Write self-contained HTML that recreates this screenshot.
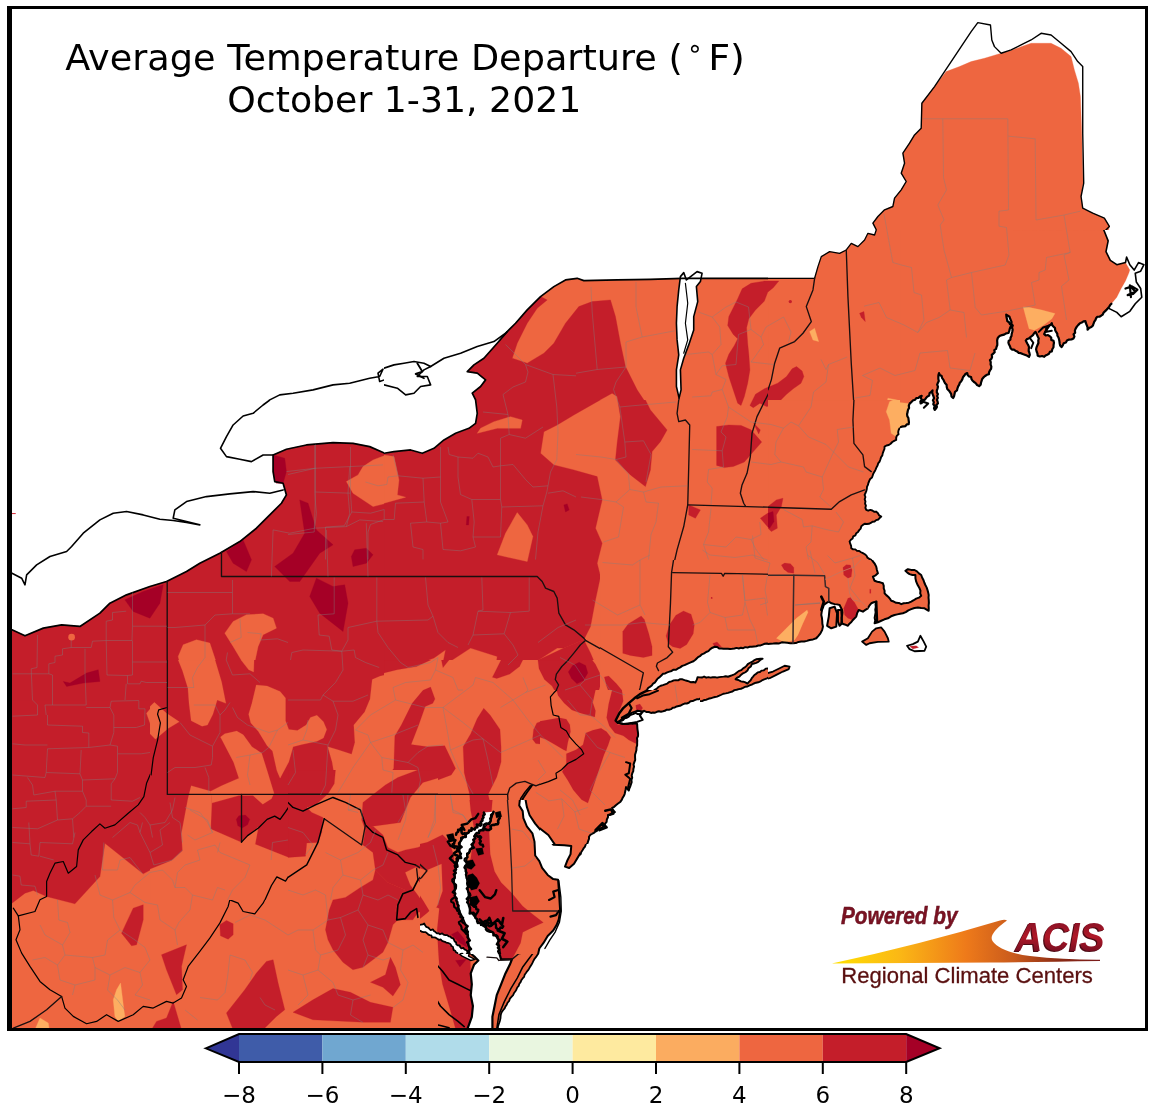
<!DOCTYPE html>
<html><head><meta charset="utf-8"><title>Average Temperature Departure</title>
<style>
html,body{margin:0;padding:0;background:#fff;}
body{width:1153px;height:1112px;overflow:hidden;font-family:"DejaVu Sans","Liberation Sans",sans-serif;}
svg{display:block}
</style></head><body>
<svg width="1153" height="1112" viewBox="0 0 1153 1112">
<rect width="1153" height="1112" fill="#fff"/>
<g shape-rendering="geometricPrecision">
<clipPath id="c0"><rect x="0" y="230" width="384" height="370"/></clipPath>
<g clip-path="url(#c0)"><g transform="translate(0,230) scale(0.333044)">
<rect x="-5" y="-5" width="1165" height="1125" fill="#ffffff"/>
<g fill="none" stroke-linejoin="round" stroke-linecap="round">
<polyline points="1160,448 1140,455 1135,430 1150,418 1140,440 1110,445 1050,460 1000,465 940,480 880,490 840,495 810,510 790,525 760,550 730,560 715,575 700,600 680,620 665,650" stroke="#000" stroke-width="4.80"/>
</g></g></g>
<clipPath id="c1"><rect x="0" y="400" width="384" height="370"/></clipPath>
<g clip-path="url(#c1)"><g transform="translate(0,400) scale(0.333044)">
<rect x="-5" y="-5" width="1165" height="1125" fill="#ffffff"/>
<polygon points="0,690 36,690 75,708 130,685 185,675 240,680 300,640 330,610 380,585 450,560 500,545 560,515 600,490 660,460 720,425 770,385 810,345 845,310 860,285 850,250 825,245 820,215 820,165 860,148 920,135 1000,128 1060,130 1110,140 1160,162 1160,1120 0,1120" fill="#c41e2a" stroke="#c41e2a" stroke-width="1"/>
<polygon points="1160,165 1120,180 1090,200 1075,225 1040,245 1060,280 1120,320 1160,310" fill="#ee6640" stroke="#ee6640" stroke-width="1"/>
<polygon points="675,700 700,665 740,645 790,642 820,655 830,685 790,705 775,740 760,810 745,815 700,740" fill="#ee6640" stroke="#ee6640" stroke-width="1"/>
<polygon points="535,770 550,735 590,720 630,730 650,790 680,910 650,900 630,975 610,980 575,945 565,870 545,810" fill="#ee6640" stroke="#ee6640" stroke-width="1"/>
<polygon points="440,960 460,910 485,940 540,965 500,985 460,1015" fill="#ee6640" stroke="#ee6640" stroke-width="1"/>
<circle cx="215" cy="712" r="10" fill="#ee6640"/>
<polygon points="375,600 430,575 490,555 480,610 450,655 400,635" fill="#a50026" stroke="#a50026" stroke-width="1"/>
<polygon points="680,455 730,420 755,480 740,515 700,490" fill="#a50026" stroke="#a50026" stroke-width="1"/>
<polygon points="900,300 925,310 950,390 1000,435 960,460 900,545 870,545 825,500 880,460 915,400" fill="#a50026" stroke="#a50026" stroke-width="1"/>
<polygon points="1055,470 1065,450 1100,445 1120,465 1100,490 1060,500" fill="#a50026" stroke="#a50026" stroke-width="1"/>
<polygon points="930,590 950,535 1000,560 1035,555 1045,610 1030,695 960,640" fill="#a50026" stroke="#a50026" stroke-width="1"/>
<polygon points="190,845 210,850 260,820 295,810 300,845 250,850 200,860" fill="#a50026" stroke="#a50026" stroke-width="1"/>
<polygon points="820,165 855,175 860,215 850,250 830,250 822,215" fill="#a50026" stroke="#a50026" stroke-width="1"/>
<g fill="none" stroke-linejoin="round" stroke-linecap="round">
<polyline points="36,690 75,708 130,685 185,675 240,680 300,640 330,610 380,585 450,560 500,545 560,515 600,490 660,460 720,425 770,385 810,345 845,310 860,285 850,250 825,245 820,215 820,165 860,148 920,135 1000,128 1060,130 1110,140 1160,162" stroke="#000" stroke-width="5.10"/>
<polyline points="502,545 502,1111" stroke="#1a0f0f" stroke-width="4.05"/>
<polyline points="665,458 665,530 1160,530" stroke="#1a0f0f" stroke-width="4.05"/>
<polyline points="502,925 478,930 470,945 480,975 470,1040 455,1111" stroke="#3a3a3a" stroke-width="2.40"/>
<polyline points="36,520 65,535 75,555 80,525 110,495 150,470 200,455 215,440 250,400 300,360 340,340 380,335 430,345 480,358 520,362 560,368 600,375 560,365 520,355 525,330 560,305 620,290 690,282 760,275 810,280 850,270" stroke="#000" stroke-width="4.80"/>
<polyline points="820,165 790,165 755,185 720,178 680,170 662,145 680,110 700,75 730,48 760,40 790,15 810,0" stroke="#000" stroke-width="4.80"/>
<polyline points="37,341 46,341" stroke="#d01020" stroke-width="2.70"/>
</g></g></g>
<clipPath id="c2"><rect x="384" y="230" width="384" height="370"/></clipPath>
<g clip-path="url(#c2)"><g transform="translate(384,230) scale(0.333044)">
<rect x="-5" y="-5" width="1165" height="1125" fill="#ffffff"/>
<polygon points="0,668 30,665 80,660 115,672 150,655 180,630 215,610 255,595 275,580 280,550 275,510 265,490 290,470 305,450 280,430 250,425 270,405 300,385 340,340 370,305 395,280 430,240 470,200 510,170 545,150 580,145 600,152 700,150 800,148 895,145 950,145 1160,145 1160,1120 0,1120" fill="#ee6640" stroke="#ee6640" stroke-width="1"/>
<polygon points="0,668 30,665 80,660 115,672 150,655 180,630 215,610 255,595 275,580 280,550 275,510 265,490 290,470 305,450 280,430 250,425 270,405 300,385 340,340 370,305 395,280 430,240 470,200 490,210 460,235 430,280 400,340 385,385 430,400 480,370 510,340 545,280 585,230 625,215 680,210 695,260 710,340 725,410 760,480 800,540 850,600 830,635 805,665 800,720 785,770 740,735 695,690 700,640 710,560 700,500 685,490 640,515 570,555 520,585 480,605 475,660 500,690 530,710 590,730 640,740 650,800 635,890 655,940 640,1000 635,1120 0,1120" fill="#c41e2a" stroke="#c41e2a" stroke-width="1"/>
<polygon points="290,565 330,558 380,555 415,565 410,590 340,590 290,605 280,600" fill="#ee6640" stroke="#ee6640" stroke-width="1"/>
<polygon points="0,675 30,680 45,750 40,790 65,800 0,815" fill="#ee6640" stroke="#ee6640" stroke-width="1"/>
<polygon points="340,970 365,905 400,848 430,880 447,920 430,990" fill="#ee6640" stroke="#ee6640" stroke-width="1"/>
<polygon points="1075.4,176.7 1102,160.1 1142.1,153.4 1185.4,153.4 1168.7,173.4 1152.1,186.7 1142.1,213.4 1115.4,240.1 1095.4,266.7 1088.7,293.4 1092,340.1 1095.4,373.4 1098.7,420.1 1092,460.1 1082,500.1 1072,526.7 1062,520.1 1048.7,480.1 1035.4,440.1 1025.4,400.1 1035.4,373.4 1052,346.7 1062,326.7 1048.7,313.4 1032,286.7 1035.4,260.1 1048.7,233.4 1062,206.7" fill="#c41e2a" stroke="#c41e2a" stroke-width="1"/>
<polygon points="998.7,590.1 1035.4,585.4 1072,586.7 1102,600.1 1134.1,636.7 1102,673.4 1082,696.7 1048.7,710.1 1022,713.4 998.7,706.7 998.7,646.7" fill="#c41e2a" stroke="#c41e2a" stroke-width="1"/>
<polygon points="1098.7,526.7 1115.4,493.4 1142.1,476.7 1182.1,460.1 1208.7,440.1 1225.4,416.7 1238.7,410.1 1255.4,423.4 1260.7,440.1 1252.1,460.1 1228.7,476.7 1208.7,493.4 1188.7,513.4 1168.7,526.7 1148.7,530.1 1128.7,520.1 1108.7,533.4" fill="#c41e2a" stroke="#c41e2a" stroke-width="1"/>
<polygon points="1110,580 1130,600 1125,612" fill="#c41e2a" stroke="#c41e2a" stroke-width="1"/>
<polygon points="915,825 950,840 935,865 915,855" fill="#c41e2a" stroke="#c41e2a" stroke-width="1"/>
<polygon points="1160,845 1130,865 1160,900" fill="#c41e2a" stroke="#c41e2a" stroke-width="1"/>
<polygon points="540,825 550,822 556,840 545,846" fill="#a50026" stroke="#a50026" stroke-width="1"/>
<polygon points="249,860 256,860 254,885 247,885" fill="#a50026" stroke="#a50026" stroke-width="1"/>
<polygon points="890,140 900,128 908,150 940,125 955,130 950,155 938,170 942,215 930,260 930,300 915,345 900,385 890,420 892,480 886,505 878,470 878,420 885,375 880,330 878,280 880,230 885,180" fill="#ffffff" stroke="#ffffff" stroke-width="1"/>
<g fill="none" stroke-linejoin="round" stroke-linecap="round">
<polygon points="890,140 900,128 908,150 940,125 955,130 950,155 938,170 942,215 930,260 930,300 915,345 900,385 890,420 892,480 886,505 878,470 878,420 885,375 880,330 878,280 880,230 885,180" stroke="#000" stroke-width="4.80"/>
<polyline points="905,160 912,220 905,280 912,330 900,370" stroke="#000" stroke-width="3.60"/>
<polyline points="0,668 30,665 80,660 115,672 150,655 180,630 215,610 255,595 275,580 280,550 275,510 265,490 290,470 305,450 280,430 250,425 270,405 300,385 340,340 370,305 395,280 430,240 470,200 510,170 545,150 580,145 600,152 700,150 800,148 895,145 950,145 1160,145" stroke="#000" stroke-width="5.10"/>
<polyline points="886,505 880,560 885,578 905,570 918,585 915,710 912,825 900,890 880,960 865,1025" stroke="#1a0f0f" stroke-width="4.05"/>
<polyline points="1160,480 1140,520 1120,560 1105,610 1100,680 1090,730 1075,765 1070,790 1080,820 1085,828" stroke="#1a0f0f" stroke-width="4.05"/>
<polyline points="912,825 1160,832" stroke="#1a0f0f" stroke-width="4.05"/>
<polyline points="865,1027 1010,1030 1018,1038 1025,1030 1160,1032" stroke="#1a0f0f" stroke-width="4.05"/>
<polyline points="0,1040 460,1040 475,1055 485,1075 510,1085 520,1105" stroke="#1a0f0f" stroke-width="4.05"/>
<polyline points="0,415 30,405 60,400 90,395 120,400 140,410 120,420 100,440 130,440 140,465 110,470 90,490 65,495 40,475 0,465" stroke="#000" stroke-width="4.80"/>
<polyline points="100,400 115,425 95,432 120,445" stroke="#000" stroke-width="5.40"/>
<polyline points="140,410 180,385 230,370 280,350 330,335 365,310 370,305" stroke="#000" stroke-width="4.80"/>
</g></g></g>
<clipPath id="c3"><rect x="384" y="400" width="384" height="370"/></clipPath>
<g clip-path="url(#c3)"><g transform="translate(384,400) scale(0.333044)">
<rect x="-5" y="-5" width="1165" height="1125" fill="#ee6640"/>
<polygon points="685,-20 640,5 570,45 520,75 480,95 470,160 510,195 570,210 640,230 655,300 635,385 655,430 640,490 650,530 635,600 620,680 600,720 540,745 520,745 465,780 430,795 400,815 330,840 340,770 260,745 175,800 185,750 150,775 80,800 0,820 0,-20" fill="#c41e2a" stroke="#c41e2a" stroke-width="1"/>
<polygon points="280,100 290,85 330,65 380,50 415,60 410,85 340,85" fill="#ee6640" stroke="#ee6640" stroke-width="1"/>
<polygon points="0,165 30,170 45,240 40,285 65,292 0,310" fill="#ee6640" stroke="#ee6640" stroke-width="1"/>
<polygon points="340,465 365,400 400,338 430,375 447,410 430,485" fill="#ee6640" stroke="#ee6640" stroke-width="1"/>
<polygon points="0,0 275,0 280,40 275,70 255,85 215,100 180,120 150,145 115,160 80,150 30,155 0,160 0,160" fill="#ffffff" stroke="#ffffff" stroke-width="1"/>
<polygon points="700,-10 780,-10 800,30 850,90 830,125 805,155 800,210 785,260 740,225 695,180 700,130 710,50" fill="#c41e2a" stroke="#c41e2a" stroke-width="1"/>
<polygon points="1075.4,-333.7 1102,-350.3 1142.1,-357 1185.4,-357 1168.7,-337 1152.1,-323.7 1142.1,-297 1115.4,-270.3 1095.4,-243.7 1088.7,-217 1092,-170.3 1095.4,-137 1098.7,-90.3 1092,-50.3 1082,-10.3 1072,16.3 1062,9.7 1048.7,-30.3 1035.4,-70.3 1025.4,-110.3 1035.4,-137 1052,-163.7 1062,-183.7 1048.7,-197 1032,-223.7 1035.4,-250.3 1048.7,-277 1062,-303.7" fill="#c41e2a" stroke="#c41e2a" stroke-width="1"/>
<polygon points="1098.7,16.3 1115.4,-17 1142.1,-33.7 1182.1,-50.3 1208.7,-70.3 1225.4,-93.7 1238.7,-100.3 1255.4,-87 1260.7,-70.3 1252.1,-50.3 1228.7,-33.7 1208.7,-17 1188.7,3 1168.7,16.3 1148.7,19.7 1128.7,9.7 1108.7,23" fill="#c41e2a" stroke="#c41e2a" stroke-width="1"/>
<polygon points="1110,70 1130,90 1125,102" fill="#c41e2a" stroke="#c41e2a" stroke-width="1"/>
<polygon points="998.7,79.7 1035.4,75 1072,76.3 1102,89.7 1134.1,126.3 1102,163 1082,186.3 1048.7,199.7 1022,203 998.7,196.3 998.7,136.3" fill="#c41e2a" stroke="#c41e2a" stroke-width="1"/>
<polygon points="915,315 950,330 935,355 915,345" fill="#c41e2a" stroke="#c41e2a" stroke-width="1"/>
<polygon points="1160,335 1130,355 1160,390" fill="#c41e2a" stroke="#c41e2a" stroke-width="1"/>
<polygon points="720,690 775,650 805,735 800,775 760,770 720,770" fill="#c41e2a" stroke="#c41e2a" stroke-width="1"/>
<polygon points="850,700 870,655 900,635 925,650 935,690 910,740 880,748 858,735" fill="#c41e2a" stroke="#c41e2a" stroke-width="1"/>
<polygon points="540,745 600,720 620,760 650,830 625,880 640,950 600,930 560,900 520,840 470,830 465,780" fill="#c41e2a" stroke="#c41e2a" stroke-width="1"/>
<polygon points="555,810 590,785 605,800 610,830 590,855 570,840" fill="#a50026" stroke="#a50026" stroke-width="1"/>
<polygon points="665,830 690,840 720,880 725,910 700,915 690,960 675,920 680,880" fill="#c41e2a" stroke="#c41e2a" stroke-width="1"/>
<polygon points="450,975 480,960 555,955 560,990 545,1030 550,1060 500,1070 450,1040" fill="#c41e2a" stroke="#c41e2a" stroke-width="1"/>
<polygon points="600,1000 650,985 680,1010 670,1050 640,1100 610,1111 590,1111 600,1060 620,1030" fill="#c41e2a" stroke="#c41e2a" stroke-width="1"/>
<polygon points="540,315 550,312 556,330 545,336" fill="#a50026" stroke="#a50026" stroke-width="1"/>
<polygon points="249,350 256,350 254,375 247,375" fill="#a50026" stroke="#a50026" stroke-width="1"/>
<polygon points="0,1111 30,1000 85,900 130,860 150,880 145,920 110,975 85,1030 130,1040 165,1040 215,1111" fill="#c41e2a" stroke="#c41e2a" stroke-width="1"/>
<polygon points="235,1111 250,1020 300,925 345,985 350,1111" fill="#c41e2a" stroke="#c41e2a" stroke-width="1"/>
<polygon points="1160,730 1100,740 1050,745 1000,740 980,745 940,770 900,785 860,800 830,820 810,850 790,870 790,870 830,850 870,840 940,830 1000,825 1050,815 1090,790 1135,775 1140,790 1100,810 1075,830 1090,845 1130,820 1160,810" fill="#ffffff" stroke="#ffffff" stroke-width="1"/>
<polygon points="1160,860 1100,880 1050,895 1000,905 940,920 900,925 850,935 800,945 770,950 745,960 745,960 720,935 705,960 720,975 745,990 760,1010 755,1050 745,1080 735,1111 1160,1111" fill="#ffffff" stroke="#ffffff" stroke-width="1"/>
<g fill="none" stroke-linejoin="round" stroke-linecap="round">
<polyline points="0,160 30,155 80,150 115,160 150,145 180,120 215,100 255,85 275,70 280,40 275,0" stroke="#000" stroke-width="5.10"/>
<polyline points="1160,730 1100,740 1050,745 1000,740 980,745 940,770 900,785 860,800 830,820 810,850 790,870" stroke="#000" stroke-width="4.50"/>
<polyline points="790,870 830,850 870,840 940,830 1000,825 1050,815 1090,790 1135,775 1140,790 1100,810 1075,830 1090,845 1130,820 1160,810" stroke="#000" stroke-width="4.50"/>
<polyline points="1160,860 1100,880 1050,895 1000,905 940,920 900,925 850,935 800,945 770,950 745,960 745,960 720,935 705,960 720,975 745,990 760,1010 755,1050 745,1080 735,1111" stroke="#000" stroke-width="4.50"/>
<polyline points="0,530 460,530 475,545 485,565 510,575 520,595 525,640 545,675 570,690 600,715 605,722" stroke="#1a0f0f" stroke-width="4.05"/>
<polyline points="605,722 780,820 770,865 755,895 740,920 720,935" stroke="#1a0f0f" stroke-width="4.05"/>
<polyline points="605,722 590,735 570,760 545,790 520,815 515,840 525,855 510,885 500,905 505,940 525,950 530,985 560,1005 580,1030 598,1060 570,1080 540,1100 520,1111" stroke="#1a0f0f" stroke-width="4.05"/>
<polyline points="885,0 880,40 885,65 905,60 918,75 915,200 912,315 900,380 880,450 865,515 862,580 858,650 850,700 855,740 865,760 820,790 815,810" stroke="#1a0f0f" stroke-width="4.05"/>
<polyline points="912,315 1160,322" stroke="#1a0f0f" stroke-width="4.05"/>
<polyline points="865,517 1010,520 1018,528 1025,520 1160,522" stroke="#1a0f0f" stroke-width="4.05"/>
<polyline points="1147,-5 1120,50 1105,100 1100,170 1090,220 1075,255 1070,280 1080,310 1085,318" stroke="#1a0f0f" stroke-width="4.05"/>
</g></g></g>
<clipPath id="c4"><rect x="768" y="0" width="384" height="370"/></clipPath>
<g clip-path="url(#c4)"><g transform="translate(768,0) scale(0.333044)">
<rect x="-5" y="-5" width="1165" height="1125" fill="#ffffff"/>
<polygon points="325,690 315,670 330,650 350,630 375,620 380,595 400,570 415,545 400,520 410,490 405,460 425,430 440,405 460,385 462,310 500,260 535,215 575,200 610,185 650,175 700,160 730,152 760,140 790,130 850,130 880,145 910,170 920,210 932,250 938,290 942,400 946,550 940,590 945,625 975,640 1010,655 1025,680 1020,700 1020,1120 325,1120" fill="#ee6640" stroke="#ee6640" stroke-width="1"/>
<g fill="none" stroke-linejoin="round" stroke-linecap="round">
<polyline points="325,690 315,670 330,650 350,630 375,620 380,595 400,570 415,545 400,520 410,490 405,460 425,430 440,405 460,385 462,310 500,260 540,200 580,140 610,95 630,68 668,75 672,120 680,140 700,160 730,150 760,135 790,120 820,100 850,105 880,130 910,155 930,185 945,200 945,400 948,550 940,590 945,625 975,640 1010,655 1025,680 1005,700 1020,730" stroke="#000" stroke-width="4.20"/>
</g></g></g>
<clipPath id="c5"><rect x="768" y="230" width="384" height="370"/></clipPath>
<g clip-path="url(#c5)"><g transform="translate(768,230) scale(0.333044)">
<rect x="-5" y="-5" width="1165" height="1125" fill="#ffffff"/>
<polygon points="0,145 140,145 150,110 160,80 185,65 215,70 235,60 250,40 270,50 290,30 300,10 320,15 325,0 325,-5 1010,-5 1010,0 1020,30 1015,60 1030,90 1060,100 1075,85 1085,120 1075,150 1060,175 1040,200 1030,225 1020,255 985,265 960,290 930,300 900,330 880,345 850,300 830,330 845,360 820,380 800,350 785,375 760,360 740,355 720,340 725,290 715,255 710,300 690,320 680,360 665,400 660,430 630,450 620,470 590,440 570,490 550,470 530,450 510,430 500,470 500,535 480,500 460,520 440,505 415,540 420,580 395,595 385,630 350,650 335,695 320,725 300,765 290,795 295,840 325,845 340,860 320,875 285,885 265,910 245,935 250,955 285,970 310,990 320,1020 325,1040 345,1060 350,1090 355,1120 0,1120" fill="#ee6640" stroke="#ee6640" stroke-width="1"/>
<polygon points="352,545 360,505 385,510 420,520 415,540 420,580 395,595 385,620 375,625 365,585" fill="#fdae61" stroke="#fdae61" stroke-width="1"/>
<polygon points="768,235 790,230 830,240 862,255 845,275 815,290 790,300 775,265" fill="#fdae61" stroke="#fdae61" stroke-width="1"/>
<polygon points="125,305 140,295 152,335 135,330" fill="#fdae61" stroke="#fdae61" stroke-width="1"/>
<polygon points="275,250 288,245 292,275 280,262" fill="#c41e2a" stroke="#c41e2a" stroke-width="1"/>
<circle cx="67" cy="215" r="5" fill="#c41e2a"/>
<polygon points="-54.3,526.7 -37.6,493.4 -10.9,476.7 29.1,460.1 55.7,440.1 72.4,416.7 85.7,410.1 102.4,423.4 107.7,440.1 99.1,460.1 75.7,476.7 55.7,493.4 35.7,513.4 15.7,526.7 -4.3,530.1 -24.3,520.1 -44.3,533.4" fill="#c41e2a" stroke="#c41e2a" stroke-width="1"/>
<polygon points="-77.6,176.7 -51,160.1 -10.9,153.4 32.4,153.4 15.7,173.4 -0.9,186.7 -10.9,213.4 -37.6,240.1 -57.6,266.7 -64.3,293.4 -61,340.1 -57.6,373.4 -54.3,420.1 -61,460.1 -71,500.1 -81,526.7 -91,520.1 -104.3,480.1 -117.6,440.1 -127.6,400.1 -117.6,373.4 -101,346.7 -91,326.7 -104.3,313.4 -121,286.7 -117.6,260.1 -104.3,233.4 -91,206.7" fill="#c41e2a" stroke="#c41e2a" stroke-width="1"/>
<g fill="none" stroke-linejoin="round" stroke-linecap="round">
<polyline points="0,145 140,145 150,110 160,80 185,65 215,70 235,60 250,40 270,50 290,30 300,10 320,15 325,0" stroke="#000" stroke-width="3.90"/>
<polyline points="1010,0 1020,30 1015,60 1030,90 1060,100 1075,85 1085,120" stroke="#000" stroke-width="4.50"/>
<polyline points="1085,120 1110,110 1125,130 1120,160 1130,200 1110,225 1080,235 1060,250 1040,240 1020,260 985,265" stroke="#000" stroke-width="4.80"/>
<polyline points="1070,170 1095,165 1110,185 1090,200 1075,185 1100,180" stroke="#000" stroke-width="6.01"/>
<polyline points="985,265 960,290 930,300 900,330 880,345 850,300 830,330 845,360 820,380 800,350 785,375 760,360 740,355 720,340 725,290 715,255 710,300 690,320 680,360 665,400 660,430 630,450 620,470 590,440 570,490 550,470 530,450 510,430 500,470 500,535 480,500 460,520 440,505 415,540 420,580 395,595 385,630 350,650 335,695 320,725 300,765 290,795 295,840 325,845 340,860 320,875 285,885 265,910 245,935 250,955 285,970 310,990 320,1020 325,1040 345,1060 350,1090 355,1120" stroke="#000" stroke-width="6.01"/>
<polyline points="140,145 135,180 115,230 130,275 105,310 80,335 35,355 20,400 10,450 0,480" stroke="#1a0f0f" stroke-width="4.05"/>
<polyline points="235,60 240,200 250,400 260,560 258,640 285,675 290,710 310,725" stroke="#1a0f0f" stroke-width="4.05"/>
<polyline points="0,832 190,838 215,815 250,795 290,780" stroke="#1a0f0f" stroke-width="4.05"/>
</g></g></g>
<clipPath id="c6"><rect x="768" y="400" width="384" height="370"/></clipPath>
<g clip-path="url(#c6)"><g transform="translate(768,400) scale(0.333044)">
<rect x="-5" y="-5" width="1165" height="1125" fill="#ffffff"/>
<polygon points="420,0 415,40 425,70 395,85 385,120 350,140 335,185 320,215 300,255 290,285 295,330 325,335 340,350 320,365 285,375 265,400 245,425 250,445 285,460 310,480 320,510 325,530 345,550 350,580 365,600 400,612 440,600 465,585 460,560 445,530 415,525 412,512 440,510 460,525 475,560 485,600 480,635 440,630 400,640 365,650 335,665 320,668 322,610 300,625 275,645 250,670 215,685 175,690 160,660 165,625 150,640 155,690 145,715 100,725 65,730 30,732 0,735 0,0" fill="#ee6640" stroke="#ee6640" stroke-width="1"/>
<polygon points="285,725 310,700 335,682 350,700 362,722 320,727 300,735" fill="#ee6640" stroke="#ee6640" stroke-width="1"/>
<polygon points="0,825 30,810 65,800 60,812 20,830 0,838" fill="#ee6640" stroke="#ee6640" stroke-width="1"/>
<polygon points="425,742 445,738 455,745 440,750" fill="#c41e2a" stroke="#c41e2a" stroke-width="1"/>
<polygon points="355,35 365,5 375,0 420,0 415,40 425,70 395,85 385,110 370,100 365,60" fill="#fdae61" stroke="#fdae61" stroke-width="1"/>
<polygon points="0,320 25,300 45,295 40,320 25,345 28,385 10,395 0,385" fill="#c41e2a" stroke="#c41e2a" stroke-width="1"/>
<polygon points="0,340 15,335 18,365 5,385 0,380" fill="#a50026" stroke="#a50026" stroke-width="1"/>
<polygon points="40,495 55,488 75,500 72,520 55,522 42,510" fill="#c41e2a" stroke="#c41e2a" stroke-width="1"/>
<polygon points="225,500 240,490 252,500 250,530 235,540 225,525" fill="#c41e2a" stroke="#c41e2a" stroke-width="1"/>
<polygon points="225,640 245,590 270,630 255,665 235,655" fill="#c41e2a" stroke="#c41e2a" stroke-width="1"/>
<polygon points="25,720 60,680 120,628 100,680 75,730 30,732" fill="#fdae61" stroke="#fdae61" stroke-width="1"/>
<g fill="none" stroke-linejoin="round" stroke-linecap="round">
<polyline points="420,0 419.4,6.7 418.1,13.3 415.7,19.8 416.8,26.7 415.8,33.3 415,40 416.7,46.1 420.3,51.6 421,58 422.5,64.2 425,70 418.4,71.9 413.8,77.5 407.4,79.7 401.8,83.5 395,85 392.1,90.5 390.9,96.4 391.9,103 386.4,107.8 384.8,113.6 385,120 378.8,122.8 373.1,126.2 368.2,131.3 362.7,135.1 355.8,136.6 350,140 349.6,147 346.9,153.3 344.6,159.6 343.3,166.3 339.4,172.2 337.4,178.7 335,185 330.7,190.4 328.9,197 325.5,202.7 323,209 320,215 316.5,220.4 314.4,226.5 312.3,232.6 306.7,236.9 303.9,242.6 301.6,248.6 300,255 297.2,260.7 296.7,267.2 295.1,273.4 292.8,279.3 290,285 292.5,291.2 290.3,298 292.6,304.2 291.4,310.9 294,317.1 292.4,323.8 295,330 300.8,332.4 307.3,329.9 313.2,331.8 318.7,335.7 325,335 330.1,339.9 333.6,346.4 340,350 335.3,354.1 331.1,358.9 324.7,360.8 320,365 313.8,365.5 308.6,369.3 303,371.7 296.9,372.3 290.3,371.5 285,375 280.2,379.3 278.3,386 273.8,390.7 270.3,396 265,400 262.4,406.2 256,409.2 254.1,415.8 248.8,419.8 245,425 246.9,431.6 249.6,438 250,445 255.4,448.4 262.3,448.6 267.3,453.1 274,453.5 279.3,457.2 285,460 290.8,463.1 295.6,467.2 298.8,473.5 304.2,477 310,480 312.8,485.7 312.5,492.5 317.2,497.6 318.4,503.9 320,510 320.2,517 322.8,523.5 325,530 331.2,533.8 333.5,541.5 340.9,544.1 345,550 347,555.8 345.9,562.2 348.7,567.9 349.8,573.9 350,580 355.2,583.9 358.9,589 361,595.2 365,600 371.2,601 376.5,604.4 382.7,605.5 388.4,607.8 393.5,611.8 400,612 406.6,609.9 413.4,608.3 420.4,607.5 426.3,602.7 432.9,600.6 440,600 447.1,597.7 453.2,593.6 458.2,587.8 465,585 462.5,579 463.5,572.3 463.1,565.9 460,560 455.9,554.6 455.7,547.2 452.4,541.3 448.4,535.8 445,530 438.9,529.3 432.7,529.6 426.7,528.9 421.3,524.1 415,525 412.4,518.7 412,512 419.1,512.4 425.9,510 433.1,511.9 440,510 444.8,514.1 450.5,516.8 455.8,520.2 460,525 461.6,531.2 466.7,536 468.5,542.1 469.8,548.4 471.1,554.8 475,560 476.2,566.8 479.2,573.1 478.3,580.4 482.9,586.4 485.3,592.8 485,600 485,607.1 483.2,614 483.8,621.3 482.3,628.2 480,635 473.3,634.7 466.7,633 459.8,634 453.3,632.2 446.9,629.2 440,630 432.8,629.7 426.5,632.7 419.8,634.2 413.2,636.3 407,639.8 400,640 394.7,643.5 388.9,645.3 382,643.3 376.4,645.9 370.3,646.5 365,650 359.9,654.8 352.7,655.5 347,659.1 340.6,661.1 335,665 327.6,667.2 320,668 322.3,661.6 318.7,655 320.9,648.7 321.9,642.3 322.8,635.8 322.3,629.4 322.4,622.9 323,616.5 322,610 315.5,612.3 311.4,618 305.1,620.6 300,625 293.9,627.7 289,631.8 285.2,637.3 279.2,640 275,645 268.9,648.9 264.8,654.8 259.6,659.6 255.3,665.3 250,670 244,672.2 238.2,674.6 233.2,679.1 226.4,679.5 220,680.6 215,685 208.1,684.2 201.5,685.7 195.1,688 188.2,687.4 181.6,688.8 175,690 171.8,684.1 170.3,677.4 164.4,672.8 163.9,665.5 160,660 159,652.7 162.4,646.1 162.9,639 162.9,631.8 165,625 159.4,629.4 155,635 150,640 150.1,646.3 149.5,652.7 152.9,658.6 154.5,664.8 154,671.2 153,677.6 155.6,683.6 155,690 153.8,696.8 148.4,701.9 146.9,708.5 145,715 138.6,716.7 131.8,716.2 125.9,720 119.1,720 113.1,723.4 106.5,723.9 100,725 92.8,724.7 85.8,725.3 78.8,726.4 72.1,729.5 65,730 58,730.1 51,731.6 44.1,732.7 37,731.6 30,732 23.9,731.2 17.9,731.7 11.9,732.9 5.8,732.5 0,735" stroke="#000" stroke-width="5.70"/>
<polygon points="285,725 310,700 335,682 350,700 362,722 320,727 300,735" stroke="#000" stroke-width="5.40"/>
<polygon points="418,740 440,732 458,708 470,735 470,750 440,752" stroke="#000" stroke-width="5.40"/>
<polyline points="0,825 30,810 65,800 60,812 20,830 0,838" stroke="#000" stroke-width="4.80"/>
<polyline points="258,0 255,60 258,130 285,165 290,200 310,215" stroke="#1a0f0f" stroke-width="4.05"/>
<polyline points="0,322 190,328 215,305 250,285 290,270" stroke="#1a0f0f" stroke-width="4.05"/>
<polyline points="0,522 75,525 165,528 170,560 180,570 180,600 210,615 215,640" stroke="#1a0f0f" stroke-width="4.05"/>
<polyline points="78,525 75,640 72,725" stroke="#1a0f0f" stroke-width="4.05"/>
<polyline points="160,625 165,690" stroke="#000" stroke-width="6.01"/>
<polyline points="190,625 185,685" stroke="#000" stroke-width="6.01"/>
<polyline points="205,620 210,680" stroke="#000" stroke-width="6.01"/>
</g></g></g>
<clipPath id="c7"><rect x="900" y="230" width="250" height="240"/></clipPath>
<g clip-path="url(#c7)"><g transform="translate(900,230) scale(0.216826)">
<rect x="-5" y="-5" width="1165" height="1125" fill="#ffffff"/>
<polygon points="0,910 40,895 35,840 45,800 75,775 100,765 95,800 120,775 150,740 160,830 175,800 170,740 180,660 200,690 225,740 245,775 265,730 290,680 310,660 340,700 365,720 385,680 410,665 420,640 415,600 430,570 445,540 450,500 470,485 500,475 515,440 495,420 490,390 505,400 520,440 515,480 500,520 510,545 540,560 575,575 595,585 595,540 580,510 600,495 625,470 640,500 630,540 635,580 665,585 700,560 710,520 690,490 665,480 680,445 700,430 720,470 745,540 770,510 800,500 810,455 830,430 855,420 865,460 890,440 910,400 935,390 960,360 975,340 1000,310 1020,270 1040,235 1055,200 1060,185 1040,150 1000,160 970,140 950,100 960,50 940,0 0,-5 0,910" fill="#ee6640" stroke="#ee6640" stroke-width="1"/>
<polygon points="568,355 600,358 650,368 715,385 700,410 660,440 620,462 595,455 580,400" fill="#fdae61" stroke="#fdae61" stroke-width="1"/>
<polygon points="0,795 40,800 35,840 40,895 0,905" fill="#fdae61" stroke="#fdae61" stroke-width="1"/>
<g fill="none" stroke-linejoin="round" stroke-linecap="round">
<polyline points="0,910 8.1,907.2 16.8,906.1 25.2,904.2 31.5,896.5 40,895 41.1,885.7 39.8,876.5 38.7,867.4 33.8,858.6 32.4,849.5 35,840 36.7,829.8 41.8,820.4 40.7,809.6 45,800 52.5,793.8 59.1,786.5 69.1,783.2 75,775 84.6,774.7 91.4,767.7 100,765 95.1,773.2 100.7,783 94,790.9 95,800 103.2,795.7 105.7,785.7 114.8,782.3 120,775 126.3,768.3 134.6,763.2 136.4,752.6 144.2,747.2 150,740 148.2,749.3 151,758.1 154.4,766.8 157.1,775.7 151.8,785.4 156.2,794 153.4,803.4 160.6,811.7 156.7,821.3 160,830 165.8,823.5 170.3,816.4 168.1,805.9 175,800 173.3,791.5 170.3,783.1 174.7,774.1 171.1,765.8 174.8,756.9 169.8,748.6 170,740 173.1,731.4 174.9,722.6 171.4,713.1 174.9,704.5 178.9,696 176.9,686.7 176.8,677.6 177.2,668.7 180,660 183.2,668.7 191.9,673.7 194.4,682.9 200,690 203.8,698.5 208,706.8 214.9,713.8 215.6,723.9 218.1,733 225,740 231.2,748.1 236.1,756.9 237.4,767.7 245,775 249.5,766.2 251.5,756.3 253.7,746.5 262.7,739.8 265,730 268.2,721.2 273.1,713.2 276,704.2 282.5,697.1 287.3,689.1 290,680 295.7,672.3 301.1,664.4 310,660 312.1,668.8 317.6,675.1 327.8,677.9 329.6,687 333.9,694.2 340,700 348.8,706.1 355.6,714.7 365,720 372,713.5 373.6,704.3 376.3,695.6 379,687 385,680 392.4,673.4 400.3,667.8 410,665 410.7,655.6 414.7,647.5 420,640 421.3,629.7 417.8,620 418.5,609.7 415,600 421.5,593.9 424.6,586 423.3,576 430,570 436.6,563.9 434.8,553.7 443,548.4 445,540 448.7,530.3 448.7,520.1 448,509.9 450,500 454.8,492.5 461.5,487.6 470,485 480.3,482.6 489.4,476.5 500,475 504,466.3 505.9,456.8 509,447.8 515,440 507.3,434.4 502.8,425.5 495,420 493.2,410 490.9,400.1 490,390 497.6,394.9 505,400 507.6,408.1 510.9,416 514.4,423.9 513.8,433.2 520,440 516.9,449.8 519.5,460.2 517.6,470.2 515,480 514.2,488.8 509.9,496.4 509.3,505.2 501.3,511.4 500,520 502.9,528.5 507.2,536.5 510,545 516.2,551.3 525.6,551.4 532.2,556.8 540,560 547.5,566.7 557.3,567.9 565.9,572 575,575 585.4,579.1 595,585 598.7,576 596.9,567 593.5,558 593.9,549 595,540 591.9,532.2 587.6,524.9 583.9,517.4 580,510 585.3,503.2 593.7,500.4 600,495 607.3,489.8 613.9,483.9 618.5,476 625,470 629.1,477.3 632.5,485 636,492.6 640,500 637.7,510 638.5,520.9 634.2,530.4 630,540 627.7,550.4 630.1,560.3 634,570 635,580 644.7,583.5 655.4,581.2 665,585 671,578.6 679.1,575.1 686.9,571.2 691,562.2 700,560 702.3,549.9 707.9,540.7 708.3,530.2 710,520 708,510.5 697.5,506.6 697.5,495.8 690,490 682.6,484.4 672,486.6 665,480 669,471.4 674.3,463.3 674.4,452.9 680,445 687.3,440.9 694.9,437.1 700,430 702.1,439 708.5,445.8 714.9,452.5 715.7,462.1 720,470 725.3,478 726,487.6 731,495.7 733.6,504.6 735.3,513.9 736.5,523.3 738.6,532.4 745,540 750.7,532.1 754.7,522.7 765.2,518.7 770,510 779.6,505.5 790.6,505.1 800,500 804.4,491.5 800.6,481.3 807.7,473.4 806.5,463.7 810,455 815.6,445.8 822.4,437.6 830,430 838.4,426.9 846,421.6 855,420 857.5,430 861.6,439.6 865.2,449.3 865,460 872.2,451.9 882.5,447.7 890,440 892.7,431.4 896,423 901.1,415.6 904.1,407.1 910,400 919.7,400 927.5,395.3 935,390 939.3,380.9 946.3,374 953.4,367.2 960,360 965.2,353.5 969.3,346.2 975,340" stroke="#000" stroke-width="10.15"/>
<polyline points="940,0 960,50 950,100 970,140 1000,160 1040,150 1045,125 1060,160 1080,185 1100,150 1125,160 1110,190 1085,200 1090,240 1110,270 1115,310 1085,340 1060,375 1020,400 1000,380 970,365 960,360" stroke="#000" stroke-width="7.38"/>
<polyline points="1040,270 1070,260 1095,275 1075,295 1050,300 1085,285 1060,255 1065,310" stroke="#000" stroke-width="10.15"/>
<polyline points="640,470 660,450 690,440 670,470 700,465" stroke="#000" stroke-width="9.22"/>
<polyline points="600,500 615,520 605,545" stroke="#000" stroke-width="9.22"/>
<polyline points="100,790 130,800 110,820" stroke="#000" stroke-width="9.22"/>
</g></g></g>
<clipPath id="c8"><rect x="0" y="700" width="384" height="370"/></clipPath>
<g clip-path="url(#c8)"><g transform="translate(0,700) scale(0.333044)">
<rect x="-5" y="-5" width="1165" height="1125" fill="#ee6640"/>
<polygon points="0,0 1160,0 1160,285 560,285 550,340 545,460 430,522 315,430 300,530 225,612 140,590 100,572 75,580 36,610 0,640" fill="#c41e2a" stroke="#c41e2a" stroke-width="1"/>
<polygon points="440,40 465,10 480,0 500,0 540,45 500,65 460,95" fill="#ee6640" stroke="#ee6640" stroke-width="1"/>
<polygon points="365,700 400,625 430,615 430,660 410,735 395,738" fill="#c41e2a" stroke="#c41e2a" stroke-width="1"/>
<polygon points="485,765 560,735 545,800 548,870 530,885 500,810" fill="#c41e2a" stroke="#c41e2a" stroke-width="1"/>
<polygon points="660,675 680,662 700,672 700,705 685,718 662,708" fill="#c41e2a" stroke="#c41e2a" stroke-width="1"/>
<polygon points="680,940 735,870 770,820 800,785 820,780 835,850 855,930 830,950 790,990 700,990" fill="#c41e2a" stroke="#c41e2a" stroke-width="1"/>
<polygon points="880,935 1000,870 1060,880 1160,905 1160,990 930,990" fill="#c41e2a" stroke="#c41e2a" stroke-width="1"/>
<polygon points="1160,540 1090,565 1000,600 985,640 990,700 1010,760 1075,810 1160,800" fill="#c41e2a" stroke="#c41e2a" stroke-width="1"/>
<polygon points="1110,850 1160,835 1160,880" fill="#c41e2a" stroke="#c41e2a" stroke-width="1"/>
<polygon points="455,990 470,965 500,955 520,905 545,990" fill="#c41e2a" stroke="#c41e2a" stroke-width="1"/>
<polygon points="340,900 350,870 362,850 372,930 375,950 355,965 345,950" fill="#fdae61" stroke="#fdae61" stroke-width="1"/>
<polygon points="105,990 120,955 145,970 148,990" fill="#fdae61" stroke="#fdae61" stroke-width="1"/>
<g fill="none" stroke-linejoin="round" stroke-linecap="round">
<polyline points="502,0 502,283 1160,283" stroke="#1a0f0f" stroke-width="4.05"/>
<polyline points="485,25 470,30 480,80 470,130 465,165 455,215 440,250 432,290 415,315 385,340 345,375 315,385 300,372 275,395 250,420 235,450 230,500 205,520 190,485 165,490 150,520 140,545 140,590 120,600 105,635 55,648 40,625" stroke="#000" stroke-width="3.60"/>
<polyline points="55,648 60,690 48,720 65,760 90,800 120,845 150,870 185,890 195,925 220,950 260,972 290,965 320,945 355,965 400,945 430,920 460,925 500,905 520,910 545,895 560,860 550,840 565,800 600,755 630,715 660,670 685,620 690,600 715,610 730,635 765,642 790,610 810,570 830,535 855,545 880,505 910,470 945,440 965,400 970,360" stroke="#000" stroke-width="3.60"/>
<polyline points="185,890 140,930 90,965 40,985" stroke="#1a0f0f" stroke-width="4.05"/>
</g></g></g>
<clipPath id="c9"><rect x="150" y="660" width="250" height="240"/></clipPath>
<g clip-path="url(#c9)"><g transform="translate(150,660) scale(0.216826)">
<rect x="-5" y="-5" width="1165" height="1125" fill="#c41e2a"/>
<polygon points="130,0 300,0 330,100 350,200 310,185 290,250 265,300 240,305 190,280 180,200 175,130 150,50" fill="#ee6640" stroke="#ee6640" stroke-width="1"/>
<polygon points="0,215 20,195 75,245 135,285 85,315 25,365 0,340" fill="#ee6640" stroke="#ee6640" stroke-width="1"/>
<polygon points="420,0 480,0 478,55 455,45" fill="#ee6640" stroke="#ee6640" stroke-width="1"/>
<polygon points="455,250 470,200 490,115 540,120 600,145 625,175 625,280 640,320 680,325 720,300 740,265 770,255 800,285 815,320 800,360 770,375 700,390 660,400 640,470 600,545 585,510 565,420 540,395 500,330 465,290" fill="#ee6640" stroke="#ee6640" stroke-width="1"/>
<polygon points="1160,50 1060,75 1025,90 1015,180 990,240 940,300 945,380 930,435 870,415 820,400 840,470 855,560 860,630 1000,650 1060,600 1125,540 1130,330 1160,290" fill="#ee6640" stroke="#ee6640" stroke-width="1"/>
<polygon points="0,965 100,925 150,880 145,800 175,640 190,580 280,605 285,660 280,780 420,840 500,770 485,850 700,935 720,870 720,840 800,780 800,735 725,680 770,665 850,635 860,620 1000,650 985,720 1000,790 975,865 1040,930 1030,1010 960,1060 890,1110 0,1110" fill="#ee6640" stroke="#ee6640" stroke-width="1"/>
<polygon points="325,355 345,340 400,328 430,345 470,400 515,430 540,510 572,615 560,640 520,665 475,625 410,625 285,660 280,605 330,580 410,545 385,470" fill="#ee6640" stroke="#ee6640" stroke-width="1"/>
<polygon points="1020,790 1060,770 1160,760 1160,850 1110,870 1085,820" fill="#ee6640" stroke="#ee6640" stroke-width="1"/>
<polygon points="398,735 410,718 440,715 460,735 450,760 425,775 405,765" fill="#a50026" stroke="#a50026" stroke-width="1"/>
<g fill="none" stroke-linejoin="round" stroke-linecap="round">
<polyline points="80,0 80,620 1160,620" stroke="#1a0f0f" stroke-width="6.23"/>
<polyline points="422,620 422,840" stroke="#1a0f0f" stroke-width="6.23"/>
<polyline points="75,220 40,230 35,250 48,290 35,370 15,450 5,530" stroke="#000" stroke-width="5.53"/>
<polyline points="422,840 450,810 500,775 540,735 575,720 600,735 625,700 655,655 670,680 700,700 760,705 770,670 800,660 830,650 855,635 880,640 920,665 965,670 975,710 995,745 1000,790 1040,795 1080,820 1090,870 1110,895 1160,905" stroke="#000" stroke-width="6.00"/>
<polyline points="800,735 975,865 1000,790" stroke="#1a0f0f" stroke-width="6.23"/>
<polyline points="800,735 800,780 770,850 740,900 700,940 660,965 625,1020 585,1000 560,1040 530,1107" stroke="#000" stroke-width="6.00"/>
</g></g></g>
<clipPath id="c10"><rect x="384" y="700" width="384" height="370"/></clipPath>
<g clip-path="url(#c10)"><g transform="translate(384,700) scale(0.333044)">
<rect x="-5" y="-5" width="1165" height="1125" fill="#ffffff"/>
<polygon points="0,0 1010,0 900,25 800,42 775,38 762,60 762,100 750,150 745,200 740,240 725,275 705,305 690,330 660,365 640,385 615,410 600,440 580,470 565,495 545,498 0,500" fill="#ee6640" stroke="#ee6640" stroke-width="1"/>
<polygon points="700,0 760,0 765,40 745,100 720,85 700,55" fill="#c41e2a" stroke="#c41e2a" stroke-width="1"/>
<polygon points="705,72 740,48 782,48 745,64" fill="#ffffff" stroke="#ffffff" stroke-width="1"/>
<g fill="none" stroke-linejoin="round" stroke-linecap="round">
<polyline points="1010,0 900,25 800,42 775,38 762,60 762,100 750,150 745,200 740,240 725,275 705,305 690,330 660,365 640,385 615,410 600,440 580,470 565,495 545,498" stroke="#000" stroke-width="5.40"/>
<polyline points="705,72 740,48 782,48 745,64 705,72" stroke="#000" stroke-width="4.50"/>
</g></g></g>
<clipPath id="c11"><rect x="384" y="660" width="250" height="240"/></clipPath>
<g clip-path="url(#c11)"><g transform="translate(384,660) scale(0.216826)">
<rect x="-5" y="-5" width="1165" height="1125" fill="#ee6640"/>
<polygon points="0,0 215,0 150,30 60,45 0,60" fill="#c41e2a" stroke="#c41e2a" stroke-width="1"/>
<polygon points="265,0 300,0 272,35" fill="#c41e2a" stroke="#c41e2a" stroke-width="1"/>
<polygon points="500,80 540,0 640,0 625,30 580,65 520,85" fill="#c41e2a" stroke="#c41e2a" stroke-width="1"/>
<polygon points="710,0 715,40 740,90 775,120 800,165 830,200 870,220 905,225 935,255 975,265 965,210 985,160 1000,110 995,60 975,20 960,0" fill="#c41e2a" stroke="#c41e2a" stroke-width="1"/>
<polygon points="850,55 870,25 900,10 930,25 940,60 920,95 890,110 865,85" fill="#a50026" stroke="#a50026" stroke-width="1"/>
<polygon points="1020,90 1045,75 1080,100 1110,140 1130,180 1100,200 1075,250 1075,290 1100,330 1160,360 1160,375 1080,345 1045,310 1035,250 1045,190 1050,150" fill="#c41e2a" stroke="#c41e2a" stroke-width="1"/>
<polygon points="685,365 690,320 705,290 740,278 810,272 850,280 860,310 850,345 848,400 840,430 800,410 740,390 700,385" fill="#c41e2a" stroke="#c41e2a" stroke-width="1"/>
<polygon points="825,515 850,440 920,400 935,340 990,312 1025,330 1048,360 1040,385 1010,440 985,505 960,590 935,665 900,635 860,585" fill="#c41e2a" stroke="#c41e2a" stroke-width="1"/>
<polygon points="460,222 490,255 535,320 540,400 540,470 520,540 500,580 480,620 495,680 475,700 485,780 490,850 500,930 540,1010 585,1060 590,1110 500,1110 470,1000 440,900 410,800 400,700 395,620 370,520 365,400 400,340 430,270" fill="#c41e2a" stroke="#c41e2a" stroke-width="1"/>
<polygon points="50,350 80,300 130,200 180,140 215,125 235,180 225,200 190,215 160,300 125,390 200,400 280,395 330,500 310,530 230,560 150,610 150,620 100,700 75,755 0,750 0,560 45,500" fill="#c41e2a" stroke="#c41e2a" stroke-width="1"/>
<polygon points="0,890 60,880 120,870 200,850 270,810 300,840 320,900 325,1000 330,1110 0,1110" fill="#c41e2a" stroke="#c41e2a" stroke-width="1"/>
<polygon points="100,990 145,955 195,975 260,950 265,1110 170,1110 160,1040 130,1030" fill="#ee6640" stroke="#ee6640" stroke-width="1"/>
<polygon points="1160,350 1135,430 1120,500 1125,560 1105,610 1080,660 1040,700 1010,740 975,790 945,810 930,850 900,900 870,945 840,955 835,940 855,890 862,855 810,835 785,845 760,810 720,775 680,730 650,690 630,660 640,640 625,670 640,720 665,780 690,850 700,910 730,950 745,990 790,1010 800,1050 805,1110 1160,1110" fill="#ffffff" stroke="#ffffff" stroke-width="1"/>
<polygon points="1160,170 1125,200 1090,255 1085,290 1120,295 1160,300" fill="#ffffff" stroke="#ffffff" stroke-width="1"/>
<polygon points="515,690 500,700 470,705 455,740 430,770 415,800 405,850 415,900 400,920 385,950 390,990 410,1020 420,1060 415,1110 325,1110 320,1000 340,960 345,900 330,860 345,830 370,800 400,770 430,745 460,715 480,690 500,680" fill="#ffffff" stroke="#ffffff" stroke-width="1"/>
<g fill="none" stroke-linejoin="round" stroke-linecap="round">
<polyline points="1160,350 1135,430 1120,500 1125,560 1105,610 1080,660 1040,700 1010,740 975,790 945,810 930,850 900,900 870,945 840,955 835,940 855,890 862,855 810,835 785,845 760,810 720,775 680,730 650,690 630,660 640,640" stroke="#000" stroke-width="8.30"/>
<polyline points="625,670 640,720 665,780 690,850 700,910 730,950 745,990 790,1010 800,1050 805,1110" stroke="#000" stroke-width="7.38"/>
<polyline points="1160,170 1125,200 1090,255 1085,290 1120,295 1160,300" stroke="#000" stroke-width="9.22"/>
<polygon points="515,690 500,700 470,705 455,740 430,770 415,800 405,850 415,900 400,920 385,950 390,990 410,1020 420,1060 415,1110 325,1110 320,1000 340,960 345,900 330,860 345,830 370,800 400,770 430,745 460,715 480,690 500,680" stroke="#000" stroke-width="9.22"/>
<polyline points="640,640 660,610 685,575" stroke="#000" stroke-width="8.30"/>
<polyline points="625,670 630,640 650,610 675,580" stroke="#000" stroke-width="6.92"/>
<polyline points="0,620 570,620 575,700 585,900 595,1110" stroke="#1a0f0f" stroke-width="6.23"/>
<polyline points="570,620 580,590 610,568 650,560 685,575" stroke="#1a0f0f" stroke-width="6.23"/>
<polyline points="850,0 820,30 795,65 790,90 805,115 790,150 770,180 768,240 800,260 810,310 850,340 890,385 920,425 890,455 850,480 800,520 790,550 740,565 700,580 685,575" stroke="#1a0f0f" stroke-width="6.23"/>
<polyline points="1090,0 1160,40" stroke="#1a0f0f" stroke-width="6.23"/>
</g></g></g>
<clipPath id="c12"><rect x="384" y="800" width="250" height="240"/></clipPath>
<g clip-path="url(#c12)"><g transform="translate(384,800) scale(0.216826)">
<rect x="-5" y="-5" width="1165" height="1125" fill="#ee6640"/>
<polygon points="0,0 100,0 75,100 0,110" fill="#c41e2a" stroke="#c41e2a" stroke-width="1"/>
<polygon points="0,250 60,230 120,215 200,195 270,160 300,190 320,250 330,340 322,400 330,450 345,500 365,540 375,580 385,620 395,660 400,800 405,850 400,900 410,950 405,1000 385,1055 330,1055 300,950 270,850 255,760 250,690 245,600 255,500 230,490 200,520 150,560 100,580 40,590 0,600" fill="#c41e2a" stroke="#c41e2a" stroke-width="1"/>
<polygon points="95,340 150,310 195,325 265,295 270,420 245,490 215,520 185,470 140,400" fill="#ee6640" stroke="#ee6640" stroke-width="1"/>
<polygon points="0,720 35,725 65,800 80,850 60,900 40,910 20,880 0,890" fill="#c41e2a" stroke="#c41e2a" stroke-width="1"/>
<polygon points="0,960 30,950 45,1055 0,1055" fill="#c41e2a" stroke="#c41e2a" stroke-width="1"/>
<polygon points="395,0 500,0 495,60 485,150 490,250 510,330 540,380 590,430 640,490 690,530 735,565 680,590 640,610 630,660 590,735 540,735 530,700 520,660 500,630 470,600 440,575 410,540 390,500 385,460 395,420 390,380 380,340 385,300 400,270 405,230 410,190 420,160 410,100 400,50" fill="#c41e2a" stroke="#c41e2a" stroke-width="1"/>
<polygon points="310,620 340,605 370,640 385,680 350,660" fill="#a50026" stroke="#a50026" stroke-width="1"/>
<polygon points="330,740 380,735 350,770" fill="#a50026" stroke="#a50026" stroke-width="1"/>
<polygon points="1100,0 1060,40 1040,75 1000,120 960,150 940,190 910,240 880,290 845,310 835,300 850,260 865,210 815,206 778,205 760,160 725,125 690,90 660,50 640,15 645,0 625,0 635,40 655,100 680,160 695,210 700,260 725,300 745,345 790,365 805,375 808,440 815,510 800,560 770,610 745,650 720,700 690,740 660,790 630,840 600,890 570,935 540,985 525,1055 1160,1060 1160,0" fill="#ffffff" stroke="#ffffff" stroke-width="1"/>
<polygon points="490,55 470,65 455,100 425,130 400,150 375,165 355,200 345,250 340,300 330,340 322,400 330,450 345,500 365,540 375,580 385,620 395,660 390,700 420,725 435,740 415,760 400,800 405,850 400,900 410,950 405,1000 385,1055 500,1055 500,1000 510,950 520,900 540,850 560,800 580,760 590,735 540,735 530,700 520,660 500,630 470,600 440,575 410,540 390,500 385,460 395,420 390,380 380,340 385,300 400,270 405,230 410,190 420,160 445,130 475,105 495,80 500,60" fill="#ffffff" stroke="#ffffff" stroke-width="1"/>
<polygon points="150,565 170,570 200,590 240,600 275,620 310,640 340,660 375,690 395,700 390,720 420,735 400,740 360,720 325,690 290,660 250,640 210,620 175,600 155,580" fill="#ffffff" stroke="#ffffff" stroke-width="1"/>
<polygon points="385,350 420,340 440,380 430,410 395,420 380,390" fill="#000" stroke="#000" stroke-width="1"/>
<polygon points="375,280 400,270 415,300 395,320 375,310" fill="#000" stroke="#000" stroke-width="1"/>
<polygon points="400,450 440,440 450,470 410,490" fill="#000" stroke="#000" stroke-width="1"/>
<g fill="none" stroke-linejoin="round" stroke-linecap="round">
<polyline points="1100,0 1091.5,4.8 1088.6,15.2 1079.1,19.1 1074.7,28 1064.8,31.4 1060,40 1057.3,50.1 1048.2,56.5 1044.1,65.8 1040,75 1031.9,81.2 1024.6,88.2 1021.1,98.5 1014,105.6 1005.8,111.7 1000,120 992.7,127 984.8,133 976.9,139.2 966.8,142.4 960,150 953.1,159.1 948.5,169.3 946.4,180.7 940,190 933,197.1 929.9,206.6 926.3,215.8 920.2,223.5 915.4,231.9 910,240 907,249.5 899.7,256.5 895.7,265.4 889.7,273.1 883,280.4 880,290 870.9,294.3 862.8,300.5 852.8,303.3 845,310 835,300 841.3,291 842.4,280 848.6,270.9 850,260 850.4,249.2 854.1,239.4 857.3,229.5 864.3,220.7 865,210 855.1,208.1 845.1,207.2 834.9,208.8 825,206.8 815,206 805.8,203.6 796.4,207.7 787.2,207.4 778,205 772.1,196.9 770.6,187.1 768.9,177.3 763.9,168.9 760,160 752.6,153.4 746,146 737.7,140.3 733.8,130.2 725,125 717.4,118.6 710,112 703.3,104.7 698.3,95.7 690,90 683.2,82.6 679.8,72.7 671.3,66.5 665.7,58.2 660,50 653,42.4 652,31.4 646.4,22.9 640,15 645,0" stroke="#000" stroke-width="8.76"/>
<polyline points="625,0 628,9.9 630.1,20 632.8,29.9 635,40 638.5,49.9 642,59.9 644.4,70.2 649.2,79.7 651.2,90.2 655,100 660.2,107.9 662.8,116.9 666.3,125.5 670.5,133.8 672,143.2 677.1,151.2 680,160 682,170.3 684.4,180.5 689.9,189.7 690.6,200.4 695,210 694.9,220.1 696.4,230.1 699.7,239.8 699.2,250 700,260 704.6,268.2 710.6,275.6 715.9,283.5 720.6,291.6 725,300 729.8,308.6 732,318.4 737.5,326.8 741.3,335.9 745,345 753.8,349.5 762.3,354.5 772.3,356.3 781.7,359.5 790,365 805,375 803.7,384.4 804.6,393.6 805.2,402.9 806.6,412.1 808.1,421.4 808.8,430.7 808,440 809.7,449.9 810.1,460 812.6,469.8 811.3,480.1 812.2,490.1 815.8,499.8 815,510 810.8,519.6 809,530 804.5,539.6 803.1,550 800,560 794.1,567.8 790.1,576.8 784.6,584.8 780,593.3 776.5,602.6 770,610 766.1,618.7 760.8,626.5 755.3,634.2 750.4,642.3 745,650 740.7,658.3 736.1,666.4 732.8,675.2 728.9,683.6 724.1,691.6 720,700 712.7,707 707.2,715.4 701.5,723.7 695.1,731.3 690,740 685.9,748.9 681.3,757.4 676.3,765.8 671.2,774.1 666.6,782.6 660,790 654.6,798.1 648.7,805.9 646.2,815.7 639.4,823 633.6,830.8 630,840 624.2,847.8 621.1,857.3 614.6,864.7 610.8,873.8 606,882.3 600,890 595.5,900 587.9,907.9 580.7,916.1 577.2,926.8 570,935 566.1,944 560.4,951.9 556.5,960.9 550.1,968.4 544.3,976.2 540,985 538,995 537.4,1005.4 535.3,1015.4 532.5,1025.2 528.7,1034.9 525.6,1044.7 525,1055" stroke="#000" stroke-width="8.30"/>
<polyline points="490,55 470,65 455,100 425,130 400,150 375,165 355,200 345,250 340,300 330,340 322,400 330,450 345,500 365,540 375,580 385,620 395,660 390,700 420,725 435,740 415,760 400,800 405,850 400,900 410,950 405,1000 385,1055" stroke="#000" stroke-width="10.15"/>
<polyline points="500,1055 500,1000 510,950 520,900 540,850 560,800 580,760 590,735 540,735 530,700 520,660 500,630 470,600 440,575 410,540 390,500 385,460 395,420 390,380 380,340 385,300 400,270 405,230 410,190 420,160 445,130 475,105 495,80 500,60" stroke="#000" stroke-width="10.15"/>
<polygon points="150,565 170,570 200,590 240,600 275,620 310,640 340,660 375,690 395,700 390,720 420,735 400,740 360,720 325,690 290,660 250,640 210,620 175,600 155,580" stroke="#000" stroke-width="6.92"/>
<polyline points="520,1055 530,990 555,930 585,870 615,820 640,770 670,730 700,690 730,640 760,590" stroke="#000" stroke-width="6.92"/>
<polyline points="570,0 580,100 590,300 595,510 800,515" stroke="#1a0f0f" stroke-width="6.23"/>
<polyline points="475,725 520,728 530,740 590,735 620,710 700,695 755,690" stroke="#1a0f0f" stroke-width="6.23"/>
<polyline points="150,285 195,325 155,375 145,340" stroke="#000" stroke-width="4.15"/>
<polyline points="0,175 15,185 20,220 50,250 100,270 130,295 150,290 155,340 150,380 130,410 100,430 85,460 70,500 55,530 60,560 100,555 130,530 150,500 155,540 150,565" stroke="#000" stroke-width="6.00"/>
<polyline points="190,715 230,745 270,790 300,830 340,850 380,870 400,880" stroke="#000" stroke-width="7.38"/>
<polyline points="230,900 260,950 300,990 340,1020 370,1045" stroke="#000" stroke-width="7.38"/>
<polyline points="170,1015 210,1030 260,1040 300,1050" stroke="#000" stroke-width="7.38"/>
<polyline points="300,170 330,160 345,190 320,210 350,230 330,260 355,275 335,300" stroke="#000" stroke-width="7.38"/>
<polyline points="480,560 500,545 515,580 540,560 545,610 565,600 560,650 580,660 565,700" stroke="#000" stroke-width="7.38"/>
<polyline points="440,240 460,235 450,260 430,265" stroke="#000" stroke-width="7.38"/>
<polyline points="450,420 470,440 500,450 520,420" stroke="#000" stroke-width="7.38"/>
</g></g></g>
<clipPath id="c13"><rect x="288" y="770" width="150" height="262"/></clipPath>
<g clip-path="url(#c13)"><g transform="translate(288,770) scale(0.249783)">
<rect x="-5" y="-5" width="1165" height="1125" fill="#ee6640"/>
<polygon points="0,0 190,0 185,55 160,95 110,140 75,150 95,170 140,190 135,250 120,290 75,292 70,345 0,350" fill="#c41e2a" stroke="#c41e2a" stroke-width="1"/>
<polygon points="300,130 390,60 440,30 520,0 660,0 640,20 540,50 490,110 470,160 450,210 340,225 310,240 295,200" fill="#c41e2a" stroke="#c41e2a" stroke-width="1"/>
<polygon points="310,240 340,225 380,260 400,310 440,330 470,320 520,310 580,285 630,270 650,300 660,400 650,500 680,560 700,600 600,560 560,560 520,570 500,600 440,600 430,560 450,500 470,480 400,450 350,400 340,330 300,300" fill="#c41e2a" stroke="#c41e2a" stroke-width="1"/>
<polygon points="150,640 165,560 180,520 230,510 290,470 340,440 350,400 400,450 470,480 450,500 430,560 440,600 420,620 400,690 380,730 300,790 260,800 220,770 180,720 160,680" fill="#c41e2a" stroke="#c41e2a" stroke-width="1"/>
<polygon points="470,410 510,390 545,400 520,440 600,540 560,560 520,500 490,460" fill="#ee6640" stroke="#ee6640" stroke-width="1"/>
<polygon points="330,850 390,820 410,750 430,790 450,860 420,905 380,870" fill="#c41e2a" stroke="#c41e2a" stroke-width="1"/>
<polygon points="20,970 100,920 180,875 250,890 330,930 420,950 410,1010 300,1010 100,1000" fill="#c41e2a" stroke="#c41e2a" stroke-width="1"/>
<polygon points="600,560 700,600 700,1040 690,1030 640,900 620,800 610,700" fill="#c41e2a" stroke="#c41e2a" stroke-width="1"/>
<g fill="none" stroke-linejoin="round" stroke-linecap="round">
<polyline points="0,97 700,97" stroke="#1a0f0f" stroke-width="5.40"/>
<polyline points="0,130 20,150 60,165 110,140 180,110 230,130 290,160 310,220 340,250 380,270 395,320 440,340 470,370 510,380" stroke="#000" stroke-width="5.60"/>
<polyline points="510,380 550,405 520,440 515,395" stroke="#1a0f0f" stroke-width="5.40"/>
<polyline points="520,440 500,480 460,495 440,540 435,600 470,595 490,570 515,555 520,590" stroke="#000" stroke-width="6.41"/>
<polyline points="145,195 295,300 310,220" stroke="#1a0f0f" stroke-width="5.40"/>
<polyline points="145,195 120,290 75,380 0,430" stroke="#000" stroke-width="5.60"/>
</g></g></g>
<clipPath id="c14"><rect x="420" y="800" width="160" height="154"/></clipPath>
<g clip-path="url(#c14)"><g transform="translate(420,800) scale(0.138768)">
<rect x="-5" y="-5" width="1165" height="1125" fill="#ee6640"/>
<polygon points="-259.4,0 -103.15,0 -142.212,156.25 -259.4,171.875" fill="#c41e2a" stroke="#c41e2a" stroke-width="1"/>
<polygon points="-259.4,390.625 -165.65,359.375 -71.9,335.938 53.1,304.688 162.475,250 209.35,296.875 240.6,390.625 256.225,531.25 243.725,625 256.225,703.125 279.663,781.25 310.913,843.75 326.538,906.25 342.163,968.75 357.788,1031.25 365.6,1250 373.413,1328.12 365.6,1406.25 381.225,1484.38 373.413,1562.5 342.163,1648.44 256.225,1648.44 209.35,1484.38 162.475,1328.12 139.038,1187.5 131.225,1078.12 123.413,937.5 139.038,781.25 99.975,765.625 53.1,812.5 -25.025,875 -103.15,906.25 -196.9,921.875 -259.4,937.5" fill="#c41e2a" stroke="#c41e2a" stroke-width="1"/>
<polygon points="-110.962,531.25 -25.025,484.375 45.2875,507.812 154.663,460.938 162.475,656.25 123.413,765.625 76.5375,812.5 29.6625,734.375 -40.65,625" fill="#ee6640" stroke="#ee6640" stroke-width="1"/>
<polygon points="-259.4,1125 -204.712,1132.81 -157.837,1250 -134.4,1328.12 -165.65,1406.25 -196.9,1421.88 -228.15,1375 -259.4,1390.62" fill="#c41e2a" stroke="#c41e2a" stroke-width="1"/>
<polygon points="-259.4,1500 -212.525,1484.38 -189.087,1648.44 -259.4,1648.44" fill="#c41e2a" stroke="#c41e2a" stroke-width="1"/>
<polygon points="357.788,0 521.85,0 514.038,93.75 498.413,234.375 506.225,390.625 537.475,515.625 584.35,593.75 662.475,671.875 740.6,765.625 818.725,828.125 889.038,882.812 803.1,921.875 740.6,953.125 724.975,1031.25 662.475,1148.44 584.35,1148.44 568.725,1093.75 553.1,1031.25 521.85,984.375 474.975,937.5 428.1,898.438 381.225,843.75 349.975,781.25 342.163,718.75 357.788,656.25 349.975,593.75 334.35,531.25 342.163,468.75 365.6,421.875 373.413,359.375 381.225,296.875 396.85,250 381.225,156.25 365.6,78.125" fill="#c41e2a" stroke="#c41e2a" stroke-width="1"/>
<polygon points="224.975,968.75 271.85,945.312 318.725,1000 342.163,1062.5 287.475,1031.25" fill="#a50026" stroke="#a50026" stroke-width="1"/>
<polygon points="256.225,1156.25 334.35,1148.44 287.475,1203.12" fill="#a50026" stroke="#a50026" stroke-width="1"/>
<polygon points="460,90 450,150 400,200 330,250 290,300 285,350 290,400 265,450 260,500 250,550 245,600 250,650 255,700 270,750 285,800 310,850 330,900 345,950 350,1000 350,1050 360,1115 580,1115 570,1050 560,1000 520,950 440,900 400,850 360,800 350,750 350,700 345,650 340,600 335,550 330,500 335,450 340,400 370,350 390,300 400,250 460,200 510,150 530,85" fill="#ffffff" stroke="#ffffff" stroke-width="1"/>
<polygon points="-5,900 30,890 60,920 110,950 170,970 220,985 250,1020 290,1060 330,1080 350,1115 270,1115 240,1070 200,1030 150,1005 100,990 50,960 -5,940" fill="#ffffff" stroke="#ffffff" stroke-width="1"/>
<polygon points="1160,375 1110,460 1075,490 1045,480 1060,440 1085,390 1090,332 1040,326 1000,324 960,322 920,270 880,230 830,170 790,110 770,50 760,-5 720,-5 715,40 740,80 745,130 770,190 810,240 825,300 830,400 860,440 880,490 920,540 960,570 995,575 1000,640 1005,720 1010,800 1000,860 985,900 960,940 920,980 890,1030 860,1070 850,1115 1160,1115" fill="#ffffff" stroke="#ffffff" stroke-width="1"/>
<polygon points="345,540 380,530 410,560 430,600 410,640 370,650 345,610" fill="#000" stroke="#000" stroke-width="1"/>
<polygon points="330,440 380,430 400,470 370,500 335,490" fill="#000" stroke="#000" stroke-width="1"/>
<polygon points="360,700 410,690 430,730 400,770 360,760" fill="#000" stroke="#000" stroke-width="1"/>
<polygon points="400,350 450,345 460,390 420,400" fill="#000" stroke="#000" stroke-width="1"/>
<polygon points="190,250 240,240 250,280 210,300" fill="#000" stroke="#000" stroke-width="1"/>
<polygon points="540,90 580,80 590,120 550,130" fill="#000" stroke="#000" stroke-width="1"/>
<g fill="none" stroke-linejoin="round" stroke-linecap="round">
<polyline points="460,90 466.2,103.4 454.6,113.8 458.1,126.7 448.7,137.5 450,150 438.8,155.5 443.1,176.4 435.9,185.9 409.1,175.8 413.7,197.1 400,200 394.9,214 370.9,201.5 370.5,222.2 353.8,219.9 350.4,236.3 337.4,239.3 330,250 330.7,266.9 310.7,267.3 296.9,272.7 297.4,289.5 290,300 281.1,311.7 282.1,324.5 300,338.9 285,350 278.1,363.3 284.6,375.3 295,386.9 290,400 297.1,419.2 267.1,419.8 272,437.9 265,450 256.8,461.8 250.5,473.8 254.5,486.8 260,500 244.4,509.9 258.3,525.7 243.1,535.6 250,550 250.5,562.7 233.8,573.6 234.3,586.3 245,600 259,611.2 259,623.9 257.7,636.6 250,650 236.6,664 254.5,674.8 249.8,687.9 255,700 264.8,710.7 262.3,725.1 269.7,736.5 270,750 278.3,761.1 274.9,775.8 278.7,788.3 285,800 279.8,818.2 292.3,827.6 291.6,843.6 310,850 304.5,866.7 305.5,880.8 320,889.5 330,900 344,909.4 326.5,928.3 327.1,941.7 345,950 333.5,963.8 345.3,975.2 342,988.2 350,1000 359.2,1012.5 339.5,1025 347.7,1037.5 350,1050 358.7,1062 367.7,1073.9 344.9,1090.7 342.7,1104.4 360,1115" stroke="#000" stroke-width="17.29"/>
<polyline points="580,1115 569.7,1103.3 563.6,1090.9 570.7,1076.5 561.2,1064.7 570,1050 554,1040.2 561.9,1025.6 575.5,1009.9 560,1000 559.4,984 550.6,974.7 529.1,975.5 528.9,959.3 520,950 506.2,949.8 494.5,946.3 483.4,941.8 475.2,932.7 477.2,907.3 465.5,903.7 455.2,898 440,900 439.4,884 416.4,886.1 411.3,873.8 411.1,857.5 400,850 397.7,835.4 392.8,823 385.4,812.5 357.8,818.2 360,800 360.8,786.8 360.3,773.9 352.7,762.5 350,750 339.8,737.5 349.2,725 337,712.5 350,700 362.5,686.1 359,673.8 347.8,662.3 345,650 337.4,638.1 355.4,623.7 343.5,612.3 340,600 350.8,586.3 348.5,573.9 336.5,562.5 335,550 331,537.8 335.6,524.7 329.1,512.7 330,500 320.6,486.4 326.4,474.4 343.6,463.5 335,450 321.8,436.1 323.2,423.6 342.7,412.9 340,400 340,386.4 352.9,380.6 357.2,369.5 359.7,357.4 370,350 389.6,343.4 371,321.4 382.4,311.5 390,300 383.3,285.7 399.1,275.8 390.5,261.1 400,250 407.1,238.2 425,239.3 426.4,220.6 441.2,218.1 458.2,218.2 460,200 459.4,182.7 466.8,173.5 478.9,168.9 499.3,172.6 504.3,160.9 510,150 506,134.6 512.9,122.4 512.2,108 524.8,97.6 530,85" stroke="#000" stroke-width="17.29"/>
<polyline points="460,90 450,150 400,200 330,250 290,300 285,350 290,400 265,450 260,500 250,550 245,600 250,650 255,700 270,750 285,800 310,850 330,900 345,950 350,1000 350,1050 360,1115" stroke="#000" stroke-width="10.81"/>
<polyline points="580,1115 570,1050 560,1000 520,950 440,900 400,850 360,800 350,750 350,700 345,650 340,600 335,550 330,500 335,450 340,400 370,350 390,300 400,250 460,200 510,150 530,85" stroke="#000" stroke-width="10.81"/>
<polyline points="-5,900 7.2,898.4 19.3,896.7 30,890 37,903 45.5,914.5 60,920 68.2,929 76.9,937.2 93.5,932.2 100.3,943.6 110,950 120,960.1 133.3,960 144.2,967.5 159.8,960.7 170,970 182.6,973.3 196,974 207.3,981.9 220,985 226.7,994.4 240.3,997.9 245.6,1008.6 250,1020 260.2,1025.8 261.8,1040.2 271.3,1046.7 285.5,1048.5 290,1060 298.1,1068.8 312.3,1065.3 319.2,1076.5 330,1080 341.3,1089 349.6,1099.8 350,1115 338.6,1109.6 327.1,1119.2 315.7,1119.1 304.3,1108 292.9,1109.6 281.4,1118 270,1115 269.5,1102.3 258.5,1096.7 254.1,1086.6 242.5,1081.4 240,1070 236.5,1057.5 225.9,1052.1 220.8,1041.2 212,1034 200,1030 188.7,1027.6 179.1,1021.8 167.8,1019.3 157.7,1014.6 150,1005 135.7,1007.3 124.2,1000.2 112.9,992.3 100,990 86.3,990.1 81.3,975.8 68.8,974 58.6,968.3 50,960 40.6,951.7 27.9,952.3 16.1,950.5 5.9,944.3 -5,940" stroke="#000" stroke-width="12.97"/>
<polyline points="1160,375 1110,460 1075,490 1045,480 1060,440 1085,390 1090,332 1040,326 1000,324 960,322 920,270 880,230 830,170 790,110 770,50 760,-5" stroke="#000" stroke-width="14.41"/>
<polyline points="720,-5 715,40 740,80 745,130 770,190 810,240 825,300 830,400 860,440 880,490 920,540 960,570 995,575 1000,640 1005,720 1010,800 1000,860 985,900 960,940 920,980 890,1030 860,1070 850,1115" stroke="#000" stroke-width="14.41"/>
<polyline points="430,650 470,700 510,710 540,680 550,650" stroke="#000" stroke-width="17.29"/>
<polyline points="430,860 470,900 500,850 520,900 560,860 590,900 600,850" stroke="#000" stroke-width="18.74"/>
<polyline points="560,940 610,960 590,1000 630,1020 600,1060" stroke="#000" stroke-width="18.74"/>
<polyline points="320,215 300,180 340,170 370,140 400,130 420,100" stroke="#000" stroke-width="17.29"/>
<polyline points="235,290 200,300 220,330 250,345" stroke="#000" stroke-width="17.29"/>
<polyline points="235,400 215,420 245,450" stroke="#000" stroke-width="17.29"/>
<polyline points="930,720 970,700 960,660 990,650" stroke="#000" stroke-width="15.85"/>
<polyline points="940,840 980,830 1000,800" stroke="#000" stroke-width="15.85"/>
<polyline points="1000,580 1015,700 1018,800 1005,880 975,950 935,1010 900,1070" stroke="#000" stroke-width="10.09"/>
<polyline points="630,-5 645,200 660,500 668,800 990,800" stroke="#2a1a1a" stroke-width="9.37"/>
<polyline points="-5,460 50,510 10,560 -5,570" stroke="#1a0f0f" stroke-width="9.73"/>
<polyline points="216,267 228.7,267.8 233.8,281.3 244.1,286.3 255,290 248.6,300.2 245.8,312.7 235,320 242.7,329.5 252.6,334.8 264.9,335.2 275,340 268.9,349 266.8,360.5 264.1,371.8 252.9,377.2 245,385 254,396 270.3,399.7 275,415 264.4,422.3 266.4,437.5 260.2,447.5 250,455 266.2,462.6 270,480" stroke="#000" stroke-width="18.74"/>
<polyline points="330,250 323,239.1 307.7,244.6 300,235 298.5,217.8 310,205 296.4,201.4 287.9,216 275,215 275,228.8 263,237.5 260,250" stroke="#000" stroke-width="18.74"/>
<polyline points="460,200 471.2,210.7 484.4,216.1 500,215 511.6,206.1 508.1,188.7 520,180 533.5,179.6 546.5,175.6 560,175 564.2,163.9 562.4,150.8 567,139.8 575,130" stroke="#000" stroke-width="18.74"/>
<polyline points="400,250 408.6,257.7 417.8,264.4 432,260.9 440,270 429.7,281.6 437.6,297.7 430,310 436.6,320.1 450.8,322.5 455,335" stroke="#000" stroke-width="18.74"/>
<polyline points="350,700 360.8,703.4 367.2,715.5 377.8,719.4 390,720 390.7,734.3 378.1,745.4 380,760 388.8,769.1 404,769.7 406.1,787.7 420,790 418.1,801.6 412.5,811.3 406,820.5 400,830" stroke="#000" stroke-width="17.29"/>
<polyline points="440,900 452.6,895.9 456.9,880.9 466.9,873.4 480,870 483.4,880.8 496.9,886.6 490.7,902.1 500,910 512.7,906.2 515.2,888.7 531.9,890 540,880 545,892.5 547.8,905.9 547.7,920.4 560,930 573.8,932.5 579.3,918.6 592.7,920.3 600,910" stroke="#000" stroke-width="17.29"/>
<polyline points="255,700 244.1,705.2 233.7,711.4 225,720 225.3,732.4 238.1,738.4 244.5,747.8 245,760 248.1,772 259.1,779 265,789.2 270,800" stroke="#000" stroke-width="15.85"/>
<polyline points="310,850 303.2,863.2 293,873 280,880 284,892.9 293.4,903.6 298.9,915.9 300,930 310.3,939.7 320.7,949.3 330,960" stroke="#000" stroke-width="15.85"/>
</g></g></g>
<clipPath id="c15"><rect x="600" y="560" width="250" height="240"/></clipPath>
<g clip-path="url(#c15)"><g transform="translate(600,560) scale(0.216826)">
<rect x="-5" y="-5" width="1165" height="1125" fill="#ffffff"/>
<polygon points="1160,300 1120,310 1100,320 1050,325 1030,320 1020,345 1000,355 960,370 920,378 880,385 830,380 790,385 750,390 700,400 650,405 600,410 560,408 530,400 500,420 470,435 440,460 400,480 360,500 320,515 290,525 260,555 230,585 200,610 175,630 155,660 130,665 100,700 85,740 110,760 150,755 175,770 170,820 160,880 150,940 135,1000 120,1060 105,1110 0,1110 0,-5 1160,-5" fill="#ee6640" stroke="#ee6640" stroke-width="1"/>
<polygon points="200,690 175,700 160,720 185,740 230,715 280,700 330,688 400,670 450,655 500,640 540,630 580,615 620,600 660,590 700,575 740,560 780,540 810,520 840,505 870,500 875,485 850,488 820,500 795,515 775,500 745,510 720,525 700,545 680,570 650,560 625,550 650,530 680,510 700,480 730,470 750,455 720,458 690,475 660,500 630,520 600,535 550,540 500,540 450,540 440,565 410,560 380,550 340,555 310,570 280,580 250,600 230,620 200,640 180,660 165,680" fill="#ee6640" stroke="#ee6640" stroke-width="1"/>
<polygon points="105,330 130,295 190,258 205,275 225,340 240,400 240,440 200,450 140,440 105,430" fill="#c41e2a" stroke="#c41e2a" stroke-width="1"/>
<polygon points="305,350 320,300 350,255 385,235 420,250 435,300 430,340 400,390 370,408 335,400 315,385" fill="#c41e2a" stroke="#c41e2a" stroke-width="1"/>
<polygon points="20,540 40,535 75,570 100,600 105,650 130,665 100,700 85,740 110,760 150,755 170,800 165,840 130,835 90,800 60,770 35,740 30,680 45,620 30,580" fill="#c41e2a" stroke="#c41e2a" stroke-width="1"/>
<polygon points="0,770 30,800 50,830 40,870 15,920 0,940" fill="#c41e2a" stroke="#c41e2a" stroke-width="1"/>
<polygon points="835,25 855,12 885,20 895,50 880,65 850,50" fill="#c41e2a" stroke="#c41e2a" stroke-width="1"/>
<polygon points="520,385 540,378 560,400 530,402" fill="#c41e2a" stroke="#c41e2a" stroke-width="1"/>
<polygon points="1160,150 1135,180 1125,230 1135,270 1160,280" fill="#c41e2a" stroke="#c41e2a" stroke-width="1"/>
<polygon points="1160,20 1125,30 1120,60 1140,85 1160,85" fill="#c41e2a" stroke="#c41e2a" stroke-width="1"/>
<circle cx="515" cy="175" r="4" fill="#c41e2a"/>
<polygon points="810,375 850,330 900,280 950,230 960,240 930,300 895,370 880,385 830,380" fill="#fdae61" stroke="#fdae61" stroke-width="1"/>
<polygon points="1035,200 1060,190 1050,240 1040,290 1045,320 1030,320 1022,280 1015,235" fill="#ffffff" stroke="#ffffff" stroke-width="1"/>
<g fill="none" stroke-linejoin="round" stroke-linecap="round">
<polyline points="1160,300 1150,302.6 1139.8,304.2 1129.8,306.6 1120,310 1110.9,316.8 1100,320 1090.3,323.7 1080.1,322.7 1070.1,324.2 1059.8,322.3 1050,325 1040.3,321.5 1030,320 1024.5,332.3 1020,345 1009.9,349.7 1000,355 989.7,357.9 980.7,364.3 970.1,366.6 960,370 950.4,373.8 939.6,371.8 930.5,378.4 920,378 909.7,378 900.4,383.8 889.8,382.2 880,385 869.9,384.9 859.9,383.5 850.2,380.1 839.7,383.7 830,380 820.3,383.7 809.7,380.2 800,383.7 790,385 780.3,388.5 769.7,384.8 759.7,386.3 750,390 740.4,394.1 730.1,394.4 720.4,398 710.2,399 700,400 689.9,400.3 680.2,403.9 669.9,401.9 660.2,406.5 650,405 640.2,407.8 629.8,405.3 620.1,408.5 610,409.4 600,410 590,409 580,409.1 570,409.1 560,408 549.3,407.8 540.3,401.5 530,400 518.6,404.5 508.5,411.1 500,420 489.6,424.2 480.4,430.7 470,435 463,441.8 454.3,446.7 446.9,453 440,460 431,466.9 420.7,471.3 410.3,475.7 400,480 390,484.9 379.2,488.5 370,495 360,500 350.9,506.2 339.4,505.8 330.1,511.6 320,515 310,518.2 300.5,523.1 290,525 282.8,532.8 275.4,540.4 266.4,546.4 260,555 254.1,564.1 244.8,569.8 238.8,578.8 230,585 221.8,590.4 216.6,599.5 208.3,604.7 200,610 192.2,617.3 182.9,622.7 175,630 170.4,641.4 161.9,650.1 155,660 142.8,664.1 130,665 123.4,674.5 115.1,682.6 105.6,689.6 100,700 96.3,710 90.1,719.1 90.5,730.6 85,740 91.9,748.5 102.1,752.7 110,760 119.8,757 130.2,758.9 140.3,758.5 150,755 159.7,757.7 167.3,763.9 175,770 172.5,779.9 173.9,790.1 173.4,800.1 173.7,810.3 170,820 170.8,830.4 166,839.9 162.4,849.6 160.6,859.5 161.6,870 160,880 160.9,890.4 157.6,900.2 153.4,909.7 151.5,919.7 150.9,929.9 150,940 149,950.4 144.9,960 142.6,970 139.3,979.8 138.8,990.3 135,1000 130.1,1009.4 127.9,1019.5 129.3,1030.5 126.1,1040.3 120.5,1049.5 120,1060 118.2,1070.4 111.6,1079.3 110.9,1090 107,1099.7 105,1110" stroke="#000" stroke-width="9.22"/>
<polygon points="200,690 188,696.2 175,700 166.7,709.4 160,720 167.7,727.5 175.5,734.8 185,740 193.2,733.5 202.3,728.7 211.1,723.3 220.3,718.7 230,715 240.4,713.2 249.4,707 260,706.2 269.5,701.5 280,700 289.7,696.5 299.9,694.8 310.4,694.6 320.1,691 330,688 339.3,682.8 349.7,681.7 359.5,678.4 370.5,679.7 380.4,676.8 390.4,674.2 400,670 410.5,668.7 420.4,665.3 430.7,663.4 440.5,659.6 450,655 459.6,650.7 470.6,650.9 480,645.9 490.4,644.4 500,640 510.1,637.8 519.9,634.6 529.8,631.8 540,630 549.9,625.9 559.6,621.5 569.3,616.8 580,615 590.6,612.9 600.6,609 610.9,606.3 620,600 630.3,598.5 640.1,595.3 650.3,593.8 660,590 669.3,584.4 680.3,583.4 689.9,578.5 700,575 709.4,569.6 719.4,566 730,563.9 740,560 749.4,553.8 759.9,549.8 770.3,545.5 780,540 789.7,532.9 798.9,525 810,520 820,515 829.3,508.7 840,505 849.8,501.9 859.7,500 870,500 875,485 862.6,487.2 850,488 840.9,494.2 829.7,495.2 820,500 810.4,502.8 803.6,510.5 795,515 785.7,506.5 775,500 764.2,501.1 755.8,509.1 745,510 737.7,516.7 727.5,518.5 720,525 712,530.3 706.1,537.8 700,545 694.8,554.5 687,562 680,570 670.6,564.7 660.7,561.3 650,560 638.1,553.4 625,550 632.3,542.1 642.9,538.2 650,530 659.6,522.8 670.7,517.7 680,510 685,498.9 695.5,491.4 700,480 710.2,477.2 720.4,474.5 730,470 739,461.2 750,455 739.9,455.4 730,456.6 720,458 709.8,463.2 700.4,470 690,475 681.7,480.3 675.6,488.2 668.2,494.6 660,500 651,508.2 639.4,512.5 630,520 621,526.9 610.7,531.4 600,535 590.2,538.4 579.9,536.2 570,537.7 560,538.8 550,540 540,542.6 530,540.3 520,540.9 510,542.3 500,540 490,542.8 480,537.2 470,542.1 460,541.1 450,540 446.2,553 440,565 430.1,562.8 419.6,564 410,560 399.9,556.8 389.8,554 380,550 369.8,549.4 360.3,555.2 350.1,554.7 340,555 330,560 318.8,562.7 310,570 300,573.2 290,576.8 280,580 269.5,585.9 260.6,594.3 250,600 245.2,608.5 236.7,613.3 230,620 218.7,624.8 209.3,632.2 200,640 194.3,647.6 185.9,652.6 180,660 171,668.8 165,680 177,682 188.2,687.1" stroke="#000" stroke-width="8.76"/>
<polyline points="1040,130 1050,180 1030,200 1010,230 1020,280 1030,320" stroke="#000" stroke-width="9.22"/>
<polyline points="1065,200 1055,310" stroke="#000" stroke-width="11.07"/>
<polyline points="1085,205 1080,315" stroke="#000" stroke-width="11.07"/>
<polyline points="1105,210 1110,300" stroke="#000" stroke-width="9.22"/>
<polyline points="335,58 560,62 568,75 575,62 895,68 1035,72 1040,130" stroke="#1a0f0f" stroke-width="6.23"/>
<polyline points="340,-5 330,58 325,200 320,300 315,400 335,425 310,450 265,475 260,490 270,510" stroke="#1a0f0f" stroke-width="6.23"/>
<polyline points="895,68 898,200 890,380" stroke="#1a0f0f" stroke-width="6.23"/>
<polyline points="0,405 200,520 185,590 170,640" stroke="#1a0f0f" stroke-width="6.23"/>
<polyline points="100,700 130,690 160,700 140,720 170,735 200,715" stroke="#000" stroke-width="9.22"/>
<polyline points="90,745 130,735 175,740" stroke="#000" stroke-width="7.38"/>
</g></g></g>
<clipPath id="c16"><rect x="768" y="560" width="192" height="185"/></clipPath>
<g clip-path="url(#c16)"><g transform="translate(768,560) scale(0.166522)">
<rect x="-5" y="-5" width="1165" height="1125" fill="#ffffff"/>
<polygon points="620,-5 650,40 660,80 630,100 640,125 690,140 700,200 740,245 800,265 860,250 920,215 910,170 890,130 885,90 850,85 825,65 840,55 880,60 920,90 945,150 965,210 965,305 940,290 900,285 860,295 810,320 760,330 720,350 680,365 640,380 650,250 620,260 600,290 570,310 545,300 530,340 510,360 480,395 440,380 445,300 430,270 400,265 365,250 335,270 320,330 330,400 315,440 290,470 250,480 200,490 150,500 100,495 50,500 -5,505 -5,-5" fill="#ee6640" stroke="#ee6640" stroke-width="1"/>
<polygon points="370,290 400,280 415,320 410,400 380,410 355,395 365,340" fill="#ee6640" stroke="#ee6640" stroke-width="1"/>
<polygon points="420,300 440,300 445,380 430,395 420,370" fill="#ee6640" stroke="#ee6640" stroke-width="1"/>
<polygon points="565,490 600,470 625,430 650,410 680,405 700,430 720,470 725,490 660,492 610,500 590,510" fill="#ee6640" stroke="#ee6640" stroke-width="1"/>
<polygon points="-5,680 30,670 70,650 100,635 130,640 125,655 90,670 50,690 10,710 -5,714" fill="#ee6640" stroke="#ee6640" stroke-width="1"/>
<polygon points="850,518 890,515 905,525 870,535" fill="#c41e2a" stroke="#c41e2a" stroke-width="1"/>
<polygon points="50,470 100,420 170,350 235,300 240,315 210,380 180,450 160,480 100,495" fill="#fdae61" stroke="#fdae61" stroke-width="1"/>
<polygon points="80,30 100,18 135,22 155,45 155,80 120,75 95,55" fill="#c41e2a" stroke="#c41e2a" stroke-width="1"/>
<polygon points="450,45 470,28 495,30 505,60 500,100 480,110 455,90" fill="#c41e2a" stroke="#c41e2a" stroke-width="1"/>
<polygon points="455,290 480,230 495,225 520,255 545,300 530,340 510,360 480,350 460,330" fill="#c41e2a" stroke="#c41e2a" stroke-width="1"/>
<polygon points="611,175 618,175 618,200 611,200" fill="#c41e2a" stroke="#c41e2a" stroke-width="1"/>
<g fill="none" stroke-linejoin="round" stroke-linecap="round">
<polyline points="620,-5 630.9,9.4 641.7,23.8 650,40 654.1,60.2 660,80 646.4,92.1 630,100 640,125 656.6,130.2 673.6,134.2 690,140 695.1,154.6 695,170 700.2,184.5 700,200 710.3,211 721.9,220.8 731.8,232.1 740,245 755.1,249.6 769.4,256.9 785.7,257.9 800,265 814.6,259.6 830.2,258.2 845.7,256.4 860,250 875.2,241.6 889.7,232 906.4,226.2 920,215 914,200.6 915.4,184.5 910,170 898.9,150.6 890,130 885.4,110.3 885,90 867.2,89.8 850,85 836.8,75.9 825,65 840,55 859.8,59.4 880,60 894.5,68.5 906.4,80.4 920,90 925.5,105.3 933.2,119.7 938.5,135.1 945,150 952.5,164.2 957.5,179.2 961.7,194.4 965,210 963.9,225.8 965.4,241.7 966.1,257.5 964.5,273.3 965.3,289.2 965,305 940,290 919.9,288.7 900,285 879.6,288.3 860,295 842.8,302.3 827.4,313 810,320 793.2,322.9 776.6,326.5 760,330 739,338 720,350 699.5,356.2 680,365 660.4,373.7 640,380 644.1,364 640.2,347.3 643.3,331.2 646.5,315.1 644.2,298.6 647.4,282.5 646,266 650,250 634.7,254 620,260 608.7,274.1 600,290 584.8,299.6 570,310 545,300 535.4,319.2 530,340 510,360 500.8,372.4 489.1,382.6 480,395 460.2,387 440,380 441.5,364 441.7,348 445,332.1 446.7,316.2 445,300 437.4,285.1 430,270 415.2,266.5 400,265 381.5,259.9 365,250 349.3,259 335,270 330.4,284.8 324.6,299.3 321.9,314.5 320,330 323.8,347.3 325.7,364.9 326.5,382.6 330,400 325.2,421 315,440 302.7,455.1 290,470 270.5,476.9 250,480 233.8,485.6 217.2,489.3 200,490 183,491.8 167.1,498.8 150,500 133.2,499.8 116.6,497.3 100,495 83.1,494.4 66.9,500.8 50,500 31.7,502 13.3,503 -5,505" stroke="#000" stroke-width="12.01"/>
<polygon points="370,290 400,280 415,320 410,400 380,410 355,395 365,340" stroke="#000" stroke-width="12.01"/>
<polygon points="420,300 440,300 445,380 430,395 420,370" stroke="#000" stroke-width="12.01"/>
<polygon points="565,490 600,470 625,430 650,410 680,405 700,430 720,470 725,490 660,492 610,500 590,510" stroke="#000" stroke-width="10.81"/>
<polygon points="835,515 870,505 900,490 915,455 935,490 950,520 940,545 880,548 850,535" stroke="#000" stroke-width="10.81"/>
<polyline points="-5,680 30,670 70,650 100,635 130,640 125,655 90,670 50,690 10,710 -5,714" stroke="#000" stroke-width="10.81"/>
<polyline points="-5,92 155,92 340,95 345,160 365,170 365,250" stroke="#3a2a2a" stroke-width="9.01"/>
<polyline points="155,92 152,300 150,500" stroke="#3a2a2a" stroke-width="9.01"/>
<polyline points="165,270 310,260" stroke="#a86a5a" stroke-width="5.40"/>
<polyline points="345,115 440,70 520,40 560,-5" stroke="#c8745c" stroke-width="5.40"/>
<polyline points="480,110 490,200 510,240 560,250 600,290" stroke="#c8745c" stroke-width="5.40"/>
<polyline points="650,250 655,370" stroke="#000" stroke-width="14.41"/>
<polyline points="320,220 335,250 320,300" stroke="#000" stroke-width="15.61"/>
</g></g></g>
<clipPath id="c17"><rect x="540" y="690" width="160" height="154"/></clipPath>
<g clip-path="url(#c17)"><g transform="translate(540,690) scale(0.138768)">
<rect x="-5" y="-5" width="1165" height="1125" fill="#ee6640"/>
<polygon points="120,0 400,0 380,90 400,150 395,195 340,180 290,165 230,145 175,95 130,40" fill="#c41e2a" stroke="#c41e2a" stroke-width="1"/>
<polygon points="520,0 590,0 600,80 580,130 555,180 545,225 560,250 600,245 650,240 700,245 705,300 700,370 690,385 640,360 600,330 540,310 500,260 480,200 495,100" fill="#c41e2a" stroke="#c41e2a" stroke-width="1"/>
<polygon points="0,225 60,215 140,200 190,210 215,250 220,300 200,380 190,440 170,430 100,390 40,355 0,340" fill="#c41e2a" stroke="#c41e2a" stroke-width="1"/>
<polygon points="160,590 190,530 190,460 260,430 310,395 330,310 380,290 440,275 480,300 510,340 490,400 460,470 430,560 400,650 370,740 345,815 300,790 240,720 200,650" fill="#c41e2a" stroke="#c41e2a" stroke-width="1"/>
<polygon points="690,110 720,100 740,130 720,160 695,150" fill="#c41e2a" stroke="#c41e2a" stroke-width="1"/>
<polygon points="1160,58 1100,80 1000,115 900,150 800,165 750,150 720,175 690,165 650,180 600,215 560,235 600,245 650,240 700,245 705,300 700,380 690,450 680,520 665,600 655,680 640,725 620,700 610,750 590,790 560,820 520,850 540,880 490,900 480,950 450,990 400,1020 362,1045 335,1115 1160,1115" fill="#ffffff" stroke="#ffffff" stroke-width="1"/>
<polygon points="-5,995 60,1045 105,1110 110,1120 -5,1120" fill="#ffffff" stroke="#ffffff" stroke-width="1"/>
<polygon points="560,235 610,195 660,165 700,150 740,155 720,185 740,215 700,230 650,240 600,245" fill="#ffffff" stroke="#ffffff" stroke-width="1"/>
<g fill="none" stroke-linejoin="round" stroke-linecap="round">
<polyline points="1160,58 1146.2,66.7 1129.4,67.4 1114.5,73.3 1100,80 1084.5,81.4 1072.1,91.9 1057.8,97 1042.2,98.1 1028.1,103.7 1014.8,111.6 1000,115 985.2,118.5 971.7,125.8 956.4,127.7 943.9,138.1 929.4,142.3 913.1,141.7 900,150 885.9,153.4 871.7,156.3 856.8,153.8 842.7,157.4 829,163.7 814.2,162.4 800,165 783.7,158.6 765.8,157.8 750,150 734.2,161.5 720,175 704,173.1 690,165 670.5,173.8 650,180 639.6,191.7 626.5,199.6 610.1,202.9 600,215 587,222.4 571.4,224.5 560,235 580.1,239.5 600,245 616.8,244.3 633.7,244.9 650,240 666.5,243.3 683.7,240 700,245 700.9,263.4 702.2,281.8 705,300 706.8,316.2 706.5,332.2 698.8,347.8 700.9,364 700,380 700.1,397.9 695.4,415.1 694.9,432.8 690,450 684.9,467.1 685,485 685.9,503 680,520 674.3,535.5 677.5,552.7 672.9,568.3 672,584.8 665,600 660.9,615.7 664.3,632.4 658.8,648 660.5,664.4 655,680 650.2,695.1 643.5,709.5 640,725 630.2,712.3 620,700 617,716.7 613.5,733.4 610,750 603.8,763.6 595.9,776.3 590,790 577.5,807.5 560,820 546.8,830.2 534.7,841.8 520,850 527.4,866.8 540,880 521.9,883.1 508.1,896.8 490,900 489.7,917.3 481.6,933 480,950 469.5,963 463.3,979.2 450,990 436.6,996 423,1001.7 412.8,1013.1 400,1020 388.1,1029.4 374.3,1036.2 362,1045 353.1,1057.6 353.1,1073.7 347.4,1087.6 342.9,1102 335,1115" stroke="#000" stroke-width="14.41"/>
<polyline points="560,235 545,220 570,170 600,130 640,95 680,60 720,30 760,10 800,-5" stroke="#000" stroke-width="17.29"/>
<polyline points="640,95 660,130 640,170 590,200" stroke="#000" stroke-width="15.85"/>
<polyline points="700,60 740,40 790,30 850,5" stroke="#000" stroke-width="14.41"/>
<polyline points="620,520 650,530 640,600 615,610 650,640 635,700" stroke="#000" stroke-width="14.41"/>
<polyline points="470,870 510,860 530,890 500,900" stroke="#000" stroke-width="17.29"/>
<polyline points="400,1010 450,960 480,990 430,1010" stroke="#000" stroke-width="18.74"/>
<polyline points="120,0 100,20 75,50 80,110 95,180 135,190 150,270 190,295 215,340 260,390 300,430 315,460 260,500 200,530 155,575 115,600 120,635 60,660 0,680" stroke="#000" stroke-width="8.65"/>
<polyline points="-5,995 60,1045 105,1110 110,1120" stroke="#000" stroke-width="14.41"/>
<polygon points="560,235 610,195 660,165 700,150 740,155 720,185 740,215 700,230 650,240 600,245" stroke="#000" stroke-width="14.41"/>
</g></g></g>
<g fill="none" stroke="#7f7f7f" stroke-opacity="0.4" stroke-width="1" stroke-linejoin="round">
<polyline points="37.5,635.0 37.0,667.5 31.2,668.8 32.5,700.0 37.5,705.0 37.5,715.0 12.5,716.2"/>
<polyline points="12.5,673.8 31.2,673.8"/>
<polyline points="71.2,640.0 71.2,647.5 62.5,648.8 62.5,655.0 55.0,656.2 55.0,662.5 48.8,663.8 48.8,673.8 31.2,673.8"/>
<polyline points="71.2,647.5 91.2,647.5 92.5,641.2 106.2,640.5 106.2,621.2 112.5,620.0 112.5,612.5 126.2,611.2"/>
<polyline points="106.2,640.5 132.0,640.5 132.5,626.2 167.0,626.2"/>
<polyline points="132.5,626.2 132.5,592.5"/>
<polyline points="85.0,648.8 85.0,672.5 86.2,705.0 45.0,705.0 46.2,715.0"/>
<polyline points="48.8,673.8 52.5,675.0 52.5,705.0"/>
<polyline points="106.2,640.5 107.0,675.0 127.5,675.5 127.5,683.8 140.0,683.8 141.2,681.2 146.2,682.5 167.0,682.5"/>
<polyline points="132.5,640.5 132.5,662.0 167.0,662.0"/>
<polyline points="127.5,675.5 132.5,675.0 132.5,662.0"/>
<polyline points="86.2,707.5 110.0,707.5 111.2,701.2 138.8,700.5 138.8,708.8 145.0,708.8 144.5,725.0"/>
<polyline points="125.0,700.0 126.2,683.8"/>
<polyline points="47.5,715.0 47.5,725.0 82.5,726.2 82.5,732.5 88.8,733.0 88.8,747.5 47.5,748.8"/>
<polyline points="12.5,743.8 25.0,745.0 47.5,745.0"/>
<polyline points="110.0,707.5 113.8,715.0 113.8,732.5 110.0,745.0 88.8,747.5"/>
<polyline points="113.8,727.5 136.2,727.5 144.5,725.0"/>
<polyline points="110.0,745.0 117.5,746.2 117.5,753.8 141.2,753.8 150.0,752.5"/>
<polyline points="47.5,748.8 46.2,772.5 45.0,777.5 12.5,775.0"/>
<polyline points="46.2,772.5 80.0,773.8 81.2,750.0"/>
<polyline points="80.0,773.8 82.5,780.0 115.0,778.8 117.5,772.5 117.5,753.8"/>
<polyline points="115.0,778.8 111.2,783.8 111.2,800.0 132.5,801.2 140.0,797.5"/>
<polyline points="27.5,777.5 32.5,785.0 33.8,795.0 55.0,791.2 56.2,800.0 26.2,801.2 26.2,807.5 12.5,808.8"/>
<polyline points="55.0,791.2 82.5,791.2 82.5,780.0"/>
<polyline points="82.5,791.2 86.2,800.0 86.2,806.2 111.2,806.2"/>
<polyline points="56.2,800.0 57.5,820.0 37.5,828.8 12.5,827.5"/>
<polyline points="57.5,820.0 72.5,818.8 80.0,812.5 86.2,806.2"/>
<polyline points="72.5,818.8 73.8,837.5"/>
<polyline points="167.5,592.5 232.5,592.5 232.5,580.0"/>
<polyline points="232.5,592.5 232.5,613.8 215.0,615.0 205.0,625.0 175.0,627.5 167.5,627.5"/>
<polyline points="205.0,625.0 205.0,657.5 197.5,667.5 192.5,677.5 193.8,687.5 167.5,687.5"/>
<polyline points="232.5,613.8 250.0,613.8"/>
<polyline points="240.0,618.8 241.2,637.5 230.0,642.5"/>
<polyline points="261.2,633.8 260.0,640.0 277.5,638.8 288.0,642.5"/>
<polyline points="247.5,632.5 261.2,633.8"/>
<polyline points="227.5,652.5 226.2,660.0 232.5,675.0 250.0,673.8 260.0,682.5"/>
<polyline points="193.8,705.0 215.0,705.0 220.0,715.0 225.0,710.0 230.0,702.5"/>
<polyline points="180.0,722.5 190.0,735.0 200.0,740.0 212.5,746.2 212.5,757.5 211.2,765.0 195.0,767.5 175.0,767.5 167.5,772.5"/>
<polyline points="212.5,746.2 220.0,732.5 220.0,715.0"/>
<polyline points="205.0,767.5 208.8,777.5 208.8,793.8"/>
<polyline points="236.2,757.5 250.0,755.0 262.5,752.5 268.8,747.5 277.5,730.0 288.0,722.5"/>
<polyline points="250.0,755.0 247.5,775.0 250.0,785.0"/>
<polyline points="232.5,707.5 237.5,717.5 247.5,725.0 268.8,732.5 277.5,730.0"/>
<polyline points="185.0,807.5 200.0,812.5 207.5,822.5 212.5,832.5"/>
<polyline points="175.0,797.5 172.5,810.0 165.0,822.5 150.0,825.0 145.0,817.5 140.0,812.5"/>
<polyline points="150.0,825.0 152.5,837.5"/>
<polyline points="334.2,577.5 334.2,613.8 318.0,615.0 319.2,635.0 329.2,636.2 331.8,650.0 341.8,651.2"/>
<polyline points="376.8,577.5 376.8,621.2 348.0,627.5 348.0,640.0 341.8,651.2"/>
<polyline points="376.8,621.2 428.0,620.0 433.0,616.2 428.0,605.0 425.5,577.5"/>
<polyline points="481.8,577.5 483.0,610.0 478.0,611.2 473.0,635.0 468.0,645.0"/>
<polyline points="433.0,616.2 438.0,632.5 448.0,642.5 458.0,647.5"/>
<polyline points="478.0,611.2 510.5,612.5 529.2,611.2 529.2,577.5"/>
<polyline points="510.5,612.5 504.2,633.8 473.0,635.0"/>
<polyline points="504.2,633.8 513.0,645.0 518.0,655.0 508.0,665.0"/>
<polyline points="538.0,642.5 558.0,627.5 576.0,620.0"/>
<polyline points="376.8,621.2 378.0,632.5 388.0,647.5 400.5,662.5 408.0,667.5 430.5,662.5 438.0,657.5"/>
<polyline points="341.8,651.2 354.2,650.0 355.5,657.5 365.5,662.5 379.2,667.5"/>
<polyline points="341.8,651.2 343.0,670.0 335.5,682.5 323.0,695.0 320.5,700.0 288.0,700.0"/>
<polyline points="290.5,660.0 291.8,652.5 303.0,650.0 341.8,651.2"/>
<polyline points="323.0,695.0 333.0,701.2 353.0,701.2 368.0,695.0"/>
<polyline points="333.0,701.2 338.0,715.0 335.5,730.0 328.0,745.0"/>
<polyline points="393.0,687.5 405.5,682.5 430.5,680.0 435.5,670.0 438.0,657.5"/>
<polyline points="393.0,687.5 395.5,700.0 370.5,715.0 355.5,730.0"/>
<polyline points="395.5,700.0 425.5,707.5 443.0,707.5 473.0,685.0 475.5,677.5"/>
<polyline points="435.5,670.0 453.0,677.5 458.0,690.0 463.0,690.0"/>
<polyline points="355.5,730.0 368.0,735.0 370.5,742.5 353.0,767.5 338.0,792.5"/>
<polyline points="370.5,742.5 393.0,735.0 418.0,725.0"/>
<polyline points="370.5,742.5 381.8,757.5 383.0,770.0 393.0,772.5 391.8,792.5"/>
<polyline points="381.8,757.5 408.0,762.5 418.0,752.5 428.0,746.2 443.0,745.0"/>
<polyline points="408.0,762.5 418.0,767.5 420.5,780.0 418.0,792.5"/>
<polyline points="443.0,707.5 448.0,735.0 450.5,750.0 473.0,740.0 483.0,738.8"/>
<polyline points="443.0,707.5 463.0,722.5 483.0,738.8 500.5,752.5"/>
<polyline points="475.5,677.5 493.0,682.5 513.0,700.0 525.5,692.5 545.5,685.0"/>
<polyline points="513.0,700.0 528.0,720.0 540.5,735.0 553.0,747.5 563.0,757.5"/>
<polyline points="500.5,707.5 513.0,700.0"/>
<polyline points="523.0,677.5 528.0,690.0 525.5,692.5"/>
<polyline points="540.5,735.0 518.0,745.0 500.5,752.5"/>
<polyline points="538.0,760.0 545.5,772.5 538.0,780.0"/>
<polyline points="450.5,750.0 458.0,767.5 468.0,785.0 473.0,793.8"/>
<polyline points="403.0,795.0 405.5,810.0 398.0,822.5"/>
<polyline points="435.5,795.0 435.5,822.5 428.0,837.5"/>
<polyline points="450.5,795.0 453.0,812.5 463.0,815.0 468.0,822.5"/>
<polyline points="348.0,810.0 360.5,807.5 363.0,820.0"/>
<polyline points="483.0,738.8 488.0,760.0 493.0,785.0"/>
<polyline points="320.5,795.0 325.5,785.0 328.0,745.0 303.0,740.0 288.0,745.0"/>
<polyline points="303.0,740.0 306.8,730.0 308.0,720.0"/>
<polyline points="293.0,750.0 295.5,772.5 288.0,785.0"/>
<polyline points="315.5,444.5 315.5,492.0 350.5,493.2 350.5,447.0"/>
<polyline points="315.5,468.2 288.0,474.5"/>
<polyline points="315.5,492.0 314.2,532.0 288.0,534.5"/>
<polyline points="350.5,493.2 351.8,512.0 344.2,525.8 325.5,527.0 325.5,559.5"/>
<polyline points="351.8,512.0 370.5,513.2 384.2,509.5 384.2,519.5 370.5,524.5 368.0,532.0 368.0,559.5"/>
<polyline points="365.5,482.0 378.0,485.8 386.8,484.5 388.0,477.0 398.0,475.8"/>
<polyline points="393.0,454.5 398.0,475.8 423.0,478.2 440.5,477.0 440.5,447.0"/>
<polyline points="423.0,478.2 424.2,502.0 395.5,503.2 394.2,519.5 384.2,519.5"/>
<polyline points="424.2,502.0 426.8,522.0 410.5,523.2 413.0,547.0 423.0,549.5 423.0,559.5"/>
<polyline points="426.8,522.0 440.5,523.2 443.0,549.5 460.5,550.8"/>
<polyline points="440.5,477.0 440.5,502.0 448.0,522.0 440.5,523.2"/>
<polyline points="448.0,447.0 449.2,454.5 458.0,457.0 458.0,477.0 460.5,494.5 471.8,499.5 474.2,522.0 473.0,537.0 475.5,547.0 460.5,550.8"/>
<polyline points="458.0,457.0 473.0,458.2 478.0,453.2 488.0,457.0 493.0,467.0 500.5,465.8 500.5,438.2 509.2,434.5 508.0,414.5 483.0,412.0"/>
<polyline points="500.5,465.8 513.0,464.5 525.5,479.5 533.0,487.0 548.0,485.8 550.5,472.0 556.8,459.5"/>
<polyline points="500.5,465.8 500.5,499.5 471.8,499.5"/>
<polyline points="500.5,499.5 501.8,507.0 543.0,505.8 546.8,492.0 548.0,485.8"/>
<polyline points="501.8,507.0 500.5,537.0 473.0,537.0"/>
<polyline points="543.0,505.8 538.0,532.0 535.5,559.5"/>
<polyline points="509.2,434.5 525.5,438.2 543.0,427.0"/>
<polyline points="508.0,414.5 503.0,394.5 513.0,387.0 525.5,382.0 528.0,372.0 525.5,364.5 553.0,374.5 576.0,375.8"/>
<polyline points="505.5,344.5 525.5,364.5"/>
<polyline points="553.0,374.5 556.8,407.0 558.0,432.0 556.8,459.5"/>
<polyline points="548.0,493.2 563.0,490.8 576.0,497.0"/>
<polyline points="591.0,287.0 592.2,312.0 597.2,369.5 576.0,373.2"/>
<polyline points="597.2,369.5 626.0,367.0 616.0,382.0 613.5,389.5 619.8,407.0 632.2,405.8 676.0,402.0"/>
<polyline points="636.0,282.0 636.0,307.0 642.2,337.0 626.0,342.0 626.0,367.0"/>
<polyline points="642.2,337.0 674.8,330.8"/>
<polyline points="619.8,407.0 624.8,442.0 626.0,457.0 616.0,459.5"/>
<polyline points="624.8,442.0 643.5,440.8 651.0,454.5 646.0,482.0"/>
<polyline points="576.0,454.5 601.0,457.0 616.0,459.5 628.5,474.5 629.8,489.5 616.0,502.0 601.0,499.5 581.0,497.0"/>
<polyline points="629.8,489.5 643.5,492.0 661.0,487.0 687.2,485.8"/>
<polyline points="643.5,492.0 646.0,502.0 658.5,503.2 656.0,522.0 651.0,534.5 648.5,559.5"/>
<polyline points="616.0,502.0 623.5,507.0 618.5,537.0 603.5,542.0"/>
<polyline points="692.2,397.0 711.0,395.8 712.2,392.0 722.2,389.5 726.0,379.5 716.0,374.5 712.2,354.5 708.5,352.0 686.0,354.5"/>
<polyline points="716.0,374.5 722.2,365.8 736.0,364.5 738.5,334.5 751.0,329.5"/>
<polyline points="712.2,354.5 721.0,344.5 719.8,327.0 712.2,317.0 698.5,312.0"/>
<polyline points="712.2,317.0 726.0,307.0 736.0,302.0 748.5,307.0 751.0,329.5 761.0,337.0 763.5,344.5 754.8,357.0 751.0,362.0 773.5,364.5"/>
<polyline points="722.2,389.5 728.5,407.0 727.2,417.0 721.0,432.0 726.0,437.0 722.2,450.8 692.2,449.5"/>
<polyline points="722.2,450.8 723.5,467.0 708.5,469.5 707.2,482.0 712.2,488.2 711.0,504.5"/>
<polyline points="728.5,407.0 751.0,422.0 771.0,424.5 783.5,428.2 791.0,422.0 798.5,425.8 806.0,414.5 811.0,407.0 813.5,392.0 826.0,382.0 828.5,364.5 847.2,357.0"/>
<polyline points="783.5,428.2 776.0,442.0 774.8,454.5 781.0,462.0 771.0,464.5 751.0,462.0"/>
<polyline points="781.0,462.0 803.5,467.0 806.0,472.0 822.2,477.0 823.5,489.5 819.8,497.0 831.0,507.0"/>
<polyline points="798.5,425.8 808.5,437.0 826.0,444.5 833.5,452.0 838.5,442.0 837.2,429.5 853.5,427.0"/>
<polyline points="833.5,452.0 822.2,477.0"/>
<polyline points="833.5,452.0 848.5,467.0 863.5,472.0"/>
<polyline points="783.5,317.0 766.0,327.0 761.0,337.0"/>
<polyline points="783.5,317.0 791.0,332.0 788.5,342.0"/>
<polyline points="821.0,359.5 826.0,369.5 828.5,364.5"/>
<polyline points="711.0,508.2 708.5,532.0 703.5,544.5 726.0,547.0 736.0,537.0 751.0,539.5 761.0,534.5 759.8,522.0"/>
<polyline points="783.5,509.5 802.2,519.5 803.5,527.0 812.2,525.8 811.0,542.0 806.0,547.0 808.5,559.5"/>
<polyline points="836.0,512.0 843.5,522.0 838.5,532.0 826.0,529.5 812.2,525.8"/>
<polyline points="751.0,539.5 756.0,549.5 763.5,559.5"/>
<polyline points="703.5,544.5 708.5,559.5"/>
<polyline points="922.8,118.8 1007.8,118.8 1008.5,210.0 999.0,211.2 999.0,226.2 1006.5,227.5 1009.0,255.0 1005.2,265.0 971.5,272.5 951.5,277.5 944.0,250.0 940.2,225.0 944.0,220.0 937.8,205.0 946.5,190.0 943.5,177.5 942.8,118.8"/>
<polyline points="1008.5,136.2 1035.2,138.8 1036.0,220.0 1064.0,215.0 1080.2,211.2"/>
<polyline points="1064.0,215.0 1070.2,252.5 1046.5,257.5 1045.2,270.0 1039.0,272.5 1039.0,280.0 1031.5,282.5 1035.2,305.0 1024.0,307.5"/>
<polyline points="1070.2,252.5 1064.0,255.0 1069.0,280.0 1061.5,286.2 1066.5,320.0"/>
<polyline points="971.5,272.5 975.2,307.5 981.5,315.0 1006.5,311.2 1024.0,307.5"/>
<polyline points="884.0,213.8 887.8,235.0 892.8,262.5 901.5,265.0 911.5,267.5 914.0,292.5 921.5,295.0 924.0,320.0 917.8,332.5"/>
<polyline points="951.5,277.5 946.5,280.0 950.2,310.0 964.0,312.5 966.5,337.5"/>
<polyline points="864.0,306.2 879.0,302.5 886.5,317.5 904.0,325.0 917.8,332.5 926.5,322.5 939.0,317.5 950.2,310.0"/>
<polyline points="862.5,375.5 880.0,368.0 895.0,375.5 915.0,370.5 920.0,353.0 947.5,350.5"/>
<polyline points="855.0,398.0 870.0,395.5 872.5,380.5 862.5,375.5"/>
<polyline points="947.5,350.5 950.0,368.0 970.0,370.5 975.0,353.0"/>
<polyline points="752.5,535.5 755.0,558.0 770.0,563.0 767.5,573.0"/>
<polyline points="810.0,550.5 815.0,573.0"/>
<polyline points="827.5,555.5 835.0,563.0 852.5,558.0 860.0,555.5"/>
<polyline points="852.5,558.0 855.0,575.5 850.0,588.0 860.0,600.5"/>
<polyline points="742.5,575.5 745.0,600.5 765.0,598.0 767.5,615.5"/>
<polyline points="12.5,842.5 30.0,843.8 31.2,855.0 38.8,856.2 40.0,842.5 72.5,843.8"/>
<polyline points="30.0,843.8 28.8,822.5"/>
<polyline points="12.5,875.0 20.0,876.2 21.2,885.0 35.0,886.2 37.5,895.0"/>
<polyline points="40.0,856.2 53.8,860.0"/>
<polyline points="72.5,843.8 75.0,832.5"/>
<polyline points="103.8,842.5 102.5,870.0 117.5,870.0 120.0,860.0 130.0,857.5 142.5,873.8"/>
<polyline points="95.0,875.0 100.0,895.0 112.5,900.0 130.0,892.5 135.0,885.0 150.0,872.5 162.5,870.0 172.5,880.0 175.0,887.5"/>
<polyline points="112.5,900.0 113.8,917.5 120.0,930.0 107.5,940.0 105.0,955.0 92.5,957.5"/>
<polyline points="57.5,900.0 58.8,920.0 67.5,922.5 70.0,932.5 62.5,945.0 65.0,955.0 92.5,957.5"/>
<polyline points="40.0,925.0 45.0,935.0 62.5,945.0"/>
<polyline points="130.0,892.5 145.0,902.5 157.5,905.0 160.0,920.0 175.0,930.0 178.8,922.5 190.0,910.0 192.5,895.0 185.0,887.5 175.0,887.5"/>
<polyline points="175.0,930.0 177.5,945.0"/>
<polyline points="145.0,947.5 135.0,940.0 120.0,930.0"/>
<polyline points="92.5,957.5 95.0,967.5 110.0,975.0 125.0,967.5 140.0,972.5 150.0,960.0 145.0,947.5"/>
<polyline points="65.0,955.0 57.5,965.0 45.0,957.5 32.5,960.0"/>
<polyline points="57.5,965.0 60.0,980.0 75.0,985.0 72.5,995.0"/>
<polyline points="110.0,975.0 107.5,990.0 117.5,1000.0 125.0,1010.0"/>
<polyline points="140.0,972.5 142.5,985.0 135.0,995.0 150.0,1000.0"/>
<polyline points="75.0,985.0 95.0,980.0 95.0,967.5"/>
<polyline points="192.5,895.0 212.5,900.0 217.5,887.5 225.0,890.0"/>
<polyline points="185.0,865.0 200.0,860.0 197.5,850.0 215.0,845.0 220.0,852.5 250.0,865.0"/>
<polyline points="175.0,887.5 177.5,872.5 185.0,865.0"/>
<polyline points="217.5,852.5 220.0,842.5"/>
<polyline points="142.5,822.5 140.0,832.5 150.0,852.5 162.5,845.0 160.0,830.0 170.0,822.5"/>
<polyline points="150.0,852.5 153.8,865.0 172.5,860.0 182.5,850.0"/>
<polyline points="112.5,837.5 130.0,822.5 137.5,825.0 140.0,832.5"/>
<polyline points="170.0,802.5 172.5,817.5 180.0,822.5 182.5,842.5"/>
<polyline points="190.0,810.0 207.5,820.0 212.5,832.5 195.0,840.0 187.5,835.0"/>
<polyline points="250.0,865.0 245.0,877.5 232.5,890.0 227.5,900.0"/>
<polyline points="235.0,922.5 250.0,915.0 265.0,920.0 288.0,935.0"/>
<polyline points="230.0,955.0 245.0,960.0 252.5,972.5 250.0,980.0"/>
<polyline points="260.0,997.5 265.0,1005.0 275.0,1010.0"/>
<polyline points="200.0,997.5 217.5,1000.0 225.0,992.5 227.5,977.5 230.0,955.0"/>
<polyline points="185.0,1010.0 197.5,1020.0"/>
<polyline points="271.2,860.0 272.5,842.5 288.0,840.0"/>
<polyline points="288.0,827.5 303.0,832.5 313.0,845.0 305.5,855.0"/>
<polyline points="325.5,852.5 340.5,860.0 358.0,852.5 370.5,842.5"/>
<polyline points="340.5,860.0 343.0,875.0 333.0,887.5 330.5,900.0"/>
<polyline points="343.0,875.0 360.5,880.0 373.0,870.0 383.0,865.0 388.0,852.5"/>
<polyline points="360.5,880.0 363.0,895.0 358.0,910.0 340.5,917.5 328.0,920.0"/>
<polyline points="363.0,895.0 378.0,900.0 388.0,895.0 398.0,900.0"/>
<polyline points="358.0,910.0 368.0,925.0 383.0,930.0 388.0,942.5"/>
<polyline points="340.5,917.5 345.5,935.0 338.0,950.0 320.5,955.0"/>
<polyline points="368.0,925.0 363.0,940.0 368.0,955.0 363.0,967.5"/>
<polyline points="288.0,890.0 303.0,895.0 315.5,890.0 325.5,895.0 328.0,920.0 313.0,930.0 298.0,930.0 288.0,935.0"/>
<polyline points="313.0,930.0 315.5,950.0 320.5,955.0 318.0,970.0 303.0,975.0 288.0,970.0"/>
<polyline points="318.0,970.0 333.0,982.5 338.0,995.0 353.0,1000.0 370.5,995.0"/>
<polyline points="388.0,942.5 403.0,950.0 413.0,945.0 423.0,952.5"/>
<polyline points="403.0,950.0 400.5,970.0 408.0,982.5 403.0,1000.0 393.0,1007.5"/>
<polyline points="368.0,955.0 383.0,960.0 390.5,957.5"/>
<polyline points="353.0,1000.0 350.5,1015.0 363.0,1022.5"/>
<polyline points="303.0,975.0 308.0,995.0 298.0,1005.0"/>
<polyline points="408.0,795.0 405.5,820.0 398.0,840.0"/>
<polyline points="435.5,795.0 434.2,820.0 428.0,837.5"/>
<polyline points="450.5,795.0 453.0,810.0 463.0,815.0 468.0,822.5"/>
<polyline points="350.5,795.0 348.0,810.0 358.0,812.5"/>
<polyline points="370.5,842.5 375.5,830.0"/>
<polyline points="433.0,845.0 438.0,865.0 440.5,887.5 438.0,905.0"/>
<polyline points="602.5,562.5 632.5,565.0 640.0,560.0 650.0,555.0"/>
<polyline points="640.0,560.0 640.0,605.0 645.0,615.0"/>
<polyline points="592.5,600.0 617.5,615.0 640.0,605.0"/>
<polyline points="585.0,625.0 622.5,625.0 642.5,622.5 670.0,625.0"/>
<polyline points="710.0,575.0 707.5,602.5 710.0,612.5 700.0,622.5 692.5,625.0"/>
<polyline points="710.0,612.5 725.0,617.5 742.5,615.0 745.0,602.5 742.5,575.0"/>
<polyline points="725.0,617.5 727.5,630.0 755.0,630.0 757.5,642.5"/>
<polyline points="755.0,630.0 750.0,620.0 745.0,602.5"/>
<polyline points="767.5,575.0 765.0,590.0 767.5,602.5 760.0,605.0"/>
<polyline points="795.0,605.0 820.0,602.5"/>
<polyline points="675.0,685.0 677.5,702.5"/>
<polyline points="702.5,550.0 710.0,555.0 735.0,557.5 752.5,555.0 767.5,560.0"/>
<polyline points="807.5,555.0 817.5,562.5 825.0,575.0"/>
<polyline points="580.0,685.0 592.5,700.0 590.0,715.0 602.5,725.0 615.0,737.5"/>
<polyline points="567.5,700.0 580.0,715.0 590.0,715.0"/>
<polyline points="560.0,657.5 575.0,665.0 585.0,680.0 580.0,685.0 565.0,690.0"/>
<polyline points="585.0,680.0 600.0,675.0 610.0,690.0 625.0,695.0"/>
<polyline points="585.0,732.5 597.5,747.5 610.0,752.5 600.0,770.0 590.0,790.0 605.0,805.0"/>
<polyline points="610.0,752.5 625.0,757.5"/>
<polyline points="560.0,790.0 572.5,800.0 580.0,815.0"/>
<polyline points="314.7,445.0 314.7,493.3 316.4,513.2 314.7,528.2"/>
<polyline points="286.4,471.6 314.7,468.3 349.7,466.6 383.0,464.9"/>
<polyline points="273.1,529.9 289.7,533.2 314.7,528.2 346.4,526.6 359.7,519.9 383.0,521.6"/>
<polyline points="349.7,466.6 348.0,493.3 349.7,513.2 346.4,526.6"/>
<polyline points="326.4,529.9 328.0,576.5"/>
<polyline points="366.3,523.2 368.0,576.5"/>
<polyline points="273.1,529.9 271.4,576.5"/>
<polyline points="535.8,792.3 548.8,800.9 561.8,798.8 574.8,811.8 587.8,807.4"/>
<polyline points="561.8,798.8 564.0,816.1 557.5,829.1"/>
<polyline points="574.8,811.8 579.1,829.1 592.2,833.5"/>
<polyline points="511.9,829.1 522.8,831.3 533.6,844.3"/>
<polyline points="511.9,868.2 524.9,866.0 535.8,857.3"/>
</g>
</g>
<!-- mask outside frame -->
<path d="M0 0H1153V1112H0Z M9 7H1147V1030H9Z" fill="#fff" fill-rule="evenodd"/>
<path d="M7 6H1148V1031H7Z M12 9H1145V1028H12Z" fill="#000" fill-rule="evenodd"/>
<!-- title -->
<g font-family="'DejaVu Sans','Liberation Sans',sans-serif" fill="#000">
<text x="65.2" y="69.6" font-size="36" textLength="617.5" lengthAdjust="spacingAndGlyphs">Average Temperature Departure (</text>
<text x="695" y="56.5" font-size="26" text-anchor="middle">∘</text>
<text x="708.2" y="69.6" font-size="36" textLength="36.8" lengthAdjust="spacingAndGlyphs">F)</text>
<text x="227.3" y="111.8" font-size="36" textLength="354" lengthAdjust="spacingAndGlyphs">October 1-31, 2021</text>
</g>
<!-- colorbar -->
<g>
<polygon points="239,1034 205.8,1048.3 239,1062" fill="#313695"/>
<rect x="239" y="1034" width="83.4" height="28" fill="#3f5ca9"/>
<rect x="322.4" y="1034" width="83.4" height="28" fill="#70a7d0"/>
<rect x="405.8" y="1034" width="83.4" height="28" fill="#b0dcea"/>
<rect x="489.2" y="1034" width="83.4" height="28" fill="#e9f6e0"/>
<rect x="572.6" y="1034" width="83.4" height="28" fill="#feea9f"/>
<rect x="656" y="1034" width="83.4" height="28" fill="#fbac60"/>
<rect x="739.4" y="1034" width="83.4" height="28" fill="#ee6640"/>
<rect x="822.8" y="1034" width="83.4" height="28" fill="#c41e2a"/>
<polygon points="906.2,1034 939.6,1048.3 906.2,1062" fill="#a50026"/>
<polygon points="205.8,1048.3 239,1034 906.2,1034 939.6,1048.3 906.2,1062 239,1062" fill="none" stroke="#000" stroke-width="2"/>
<g stroke="#000" stroke-width="2">
<path d="M239 1062V1074M322.4 1062V1074M405.8 1062V1074M489.2 1062V1074M572.6 1062V1074M656 1062V1074M739.4 1062V1074M822.8 1062V1074M906.2 1062V1074"/>
</g>
<g font-family="'DejaVu Sans','Liberation Sans',sans-serif" font-size="23" text-anchor="middle" fill="#000">
<text x="239" y="1102.7">−8</text><text x="322.4" y="1102.7">−6</text><text x="405.8" y="1102.7">−4</text><text x="489.2" y="1102.7">−2</text>
<text x="572.6" y="1102.7">0</text><text x="656" y="1102.7">2</text><text x="739.4" y="1102.7">4</text><text x="822.8" y="1102.7">6</text><text x="906.2" y="1102.7">8</text>
</g>
</g>
<!-- logo -->
<defs>
<linearGradient id="sw" x1="832" y1="0" x2="1100" y2="0" gradientUnits="userSpaceOnUse">
<stop offset="0" stop-color="#ffe000"/><stop offset="0.25" stop-color="#fbb815"/><stop offset="0.5" stop-color="#ee7a1a"/><stop offset="0.68" stop-color="#c95a1c"/><stop offset="0.85" stop-color="#8a2a14"/><stop offset="1" stop-color="#7a1c1c"/>
</linearGradient>
<linearGradient id="ac" x1="0" y1="922" x2="0" y2="951" gradientUnits="userSpaceOnUse">
<stop offset="0" stop-color="#8a1226"/><stop offset="0.5" stop-color="#b01828"/><stop offset="1" stop-color="#7a0f22"/>
</linearGradient>
</defs>
<g>
<path d="M831.7 963.6 Q922 944 1000 920.5 Q1005 919 1007 920.5 Q988 934 992.5 941 Q1000 952 1030 956 Q1065 960 1100 959.8 L1100 961 Q1040 962 990 962.5 Z" fill="url(#sw)"/>
<text x="841" y="923.8" font-family="'Liberation Sans',sans-serif" font-weight="bold" font-style="italic" font-size="24.5" fill="#7a1222" stroke="#5e0c1a" stroke-width="0.5" textLength="116.5" lengthAdjust="spacingAndGlyphs">Powered by</text>
<text x="1014.3" y="951.9" font-family="'Liberation Sans',sans-serif" font-weight="bold" font-style="italic" font-size="41" fill="#4e0a14" textLength="89" lengthAdjust="spacingAndGlyphs">ACIS</text>
<text x="1015.5" y="951.2" font-family="'Liberation Sans',sans-serif" font-weight="bold" font-style="italic" font-size="41" fill="url(#ac)" textLength="89" lengthAdjust="spacingAndGlyphs">ACIS</text>
<text x="841.3" y="983.2" font-family="'Liberation Sans',sans-serif" font-size="22.5" fill="#5a1010" stroke="#5a1010" stroke-width="0.3" textLength="251.5" lengthAdjust="spacingAndGlyphs">Regional Climate Centers</text>
</g>

</svg>
</body></html>
